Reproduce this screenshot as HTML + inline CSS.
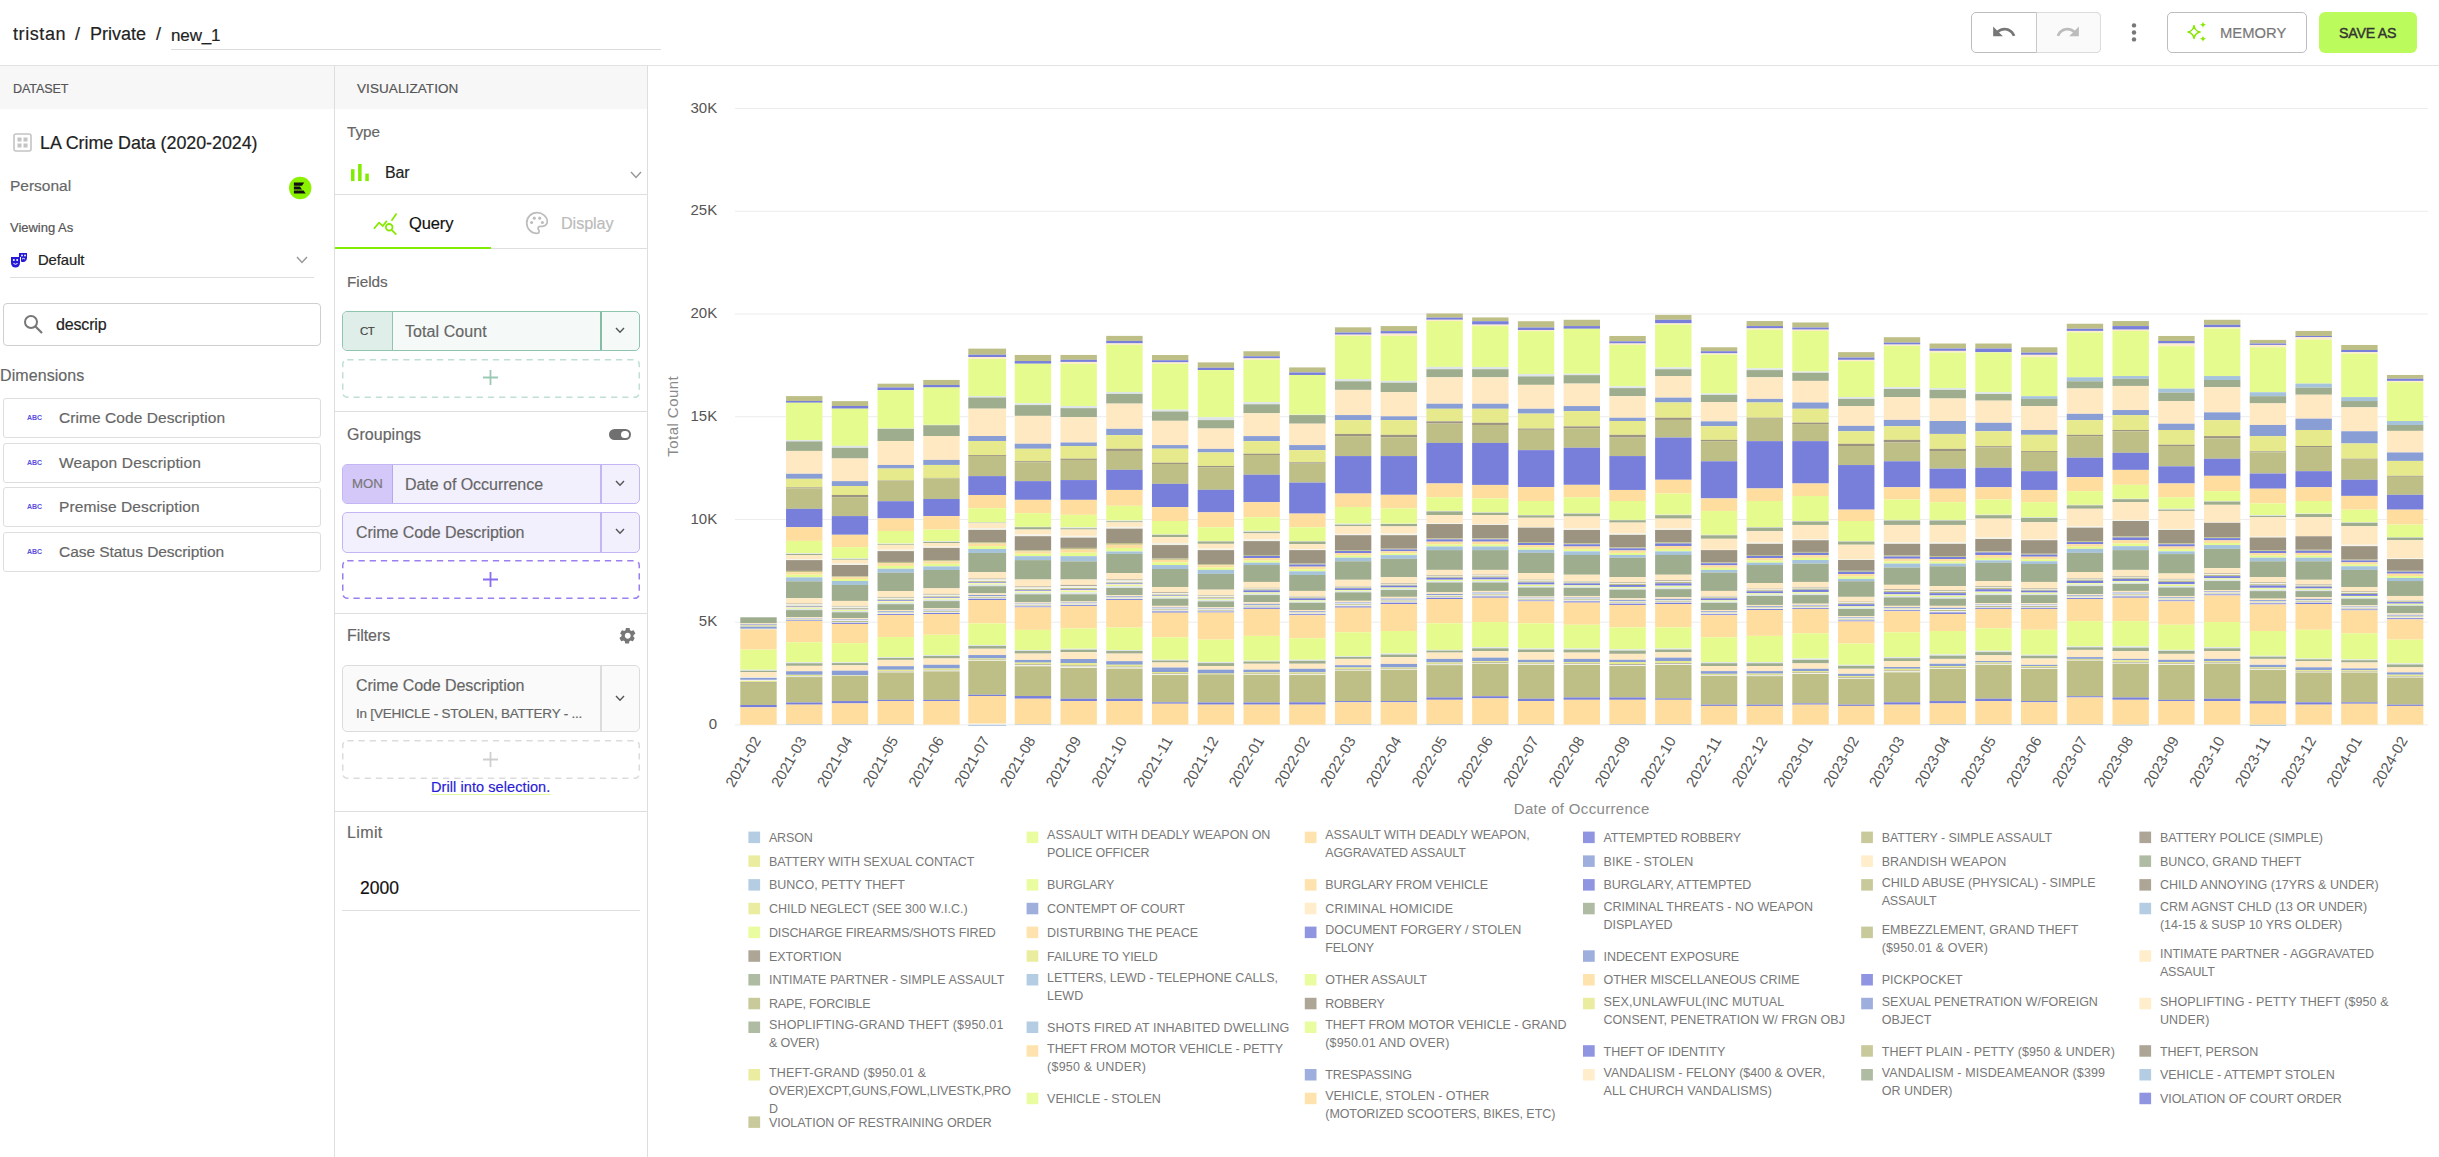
<!DOCTYPE html>
<html lang="en">
<head>
<meta charset="utf-8">
<title>new_1</title>
<style>
*{box-sizing:border-box}
html,body{margin:0;padding:0}
body{width:2439px;height:1157px;position:relative;overflow:hidden;background:#fff;font-family:"Liberation Sans",sans-serif;color:#222}
.abs{position:absolute}
.t{position:absolute;white-space:nowrap;line-height:1;margin:0;-webkit-text-stroke:0.18px currentColor}
.hl{position:absolute;height:1px;background:#dedede}
.vl{position:absolute;width:1px;background:#dedede}
.hdr{position:absolute;top:66px;height:43px;background:#f7f7f8}
.dim{position:absolute;left:3px;width:318px;height:40px;border:1px solid #dedede;border-radius:3px;background:#fff}
.abc{position:absolute;left:23px;top:14px;font-size:7px;font-weight:bold;color:#5a4fe0;letter-spacing:-0.1px;line-height:10px}
.pill{position:absolute;left:342px;width:298px;border-radius:5px;overflow:hidden}
.dash{position:absolute;left:342px;width:298px;height:38px;border-radius:5px}
.plus{position:absolute;left:483px;width:15px;height:15px}
.btn{position:absolute;top:12px;height:41px;border-radius:5px}
svg{position:absolute;overflow:visible}
#chart text{font-family:"Liberation Sans",sans-serif}
#chart rect{width:36.4px}
.lb{fill:#a6c3dc}.yg{fill:#e6fb8d}.or{fill:#ffdd9f}.bl{fill:#787fdb}.ol{fill:#bdbf87}
.br{fill:#9c9380}.kh{fill:#e6e98c}.pe{fill:#8a9ed6}.cr{fill:#ffe9c2}.sg{fill:#9fad8f}
.wh{fill:#fff}.lt{fill:#f1f2e6}.lo{fill:#ffeccb}.lbg{fill:#dde5e8}
#legend rect{width:11.7px;height:11.5px}
#legend text{font-size:12.5px;fill:#787878}
</style>
</head>
<body>
<!-- ===== top bar ===== -->
<div class="t" id="bc1" style="left:13px;top:25.0px;font-size:18px;color:#222;letter-spacing:0.58px">tristan</div>
<div class="t" id="bc2" style="left:75px;top:25.0px;font-size:18px;color:#222">/</div>
<div class="t" id="bc3" style="left:90px;top:25.0px;font-size:18px;color:#222;letter-spacing:-0.01px">Private</div>
<div class="t" id="bc4" style="left:156px;top:25.0px;font-size:18px;color:#222">/</div>
<div class="t" id="bc5" style="left:171px;top:27.2px;font-size:17px;color:#222;letter-spacing:-0.13px">new_1</div>
<div class="hl" style="left:171px;top:49px;width:490px;background:#dcdcdc"></div>
<div class="hl" style="left:0;top:65px;width:2439px;background:#e2e2e2"></div>

<div class="btn" style="left:1971px;width:130px;border:1px solid #bdbdbd;background:#fff"></div>
<div class="btn" style="left:2036px;width:65px;border:1px solid #dcdcdc;border-left:1px solid #c8c8c8;background:#fafafa;border-radius:0 5px 5px 0"></div>
<svg style="left:1991px;top:19px" width="26" height="26" viewBox="0 0 24 24"><path fill="#777" d="M12.5 8c-2.65 0-5.05.99-6.9 2.6L2 7v9h9l-3.62-3.62c1.39-1.16 3.16-1.88 5.12-1.88 3.54 0 6.55 2.31 7.6 5.5l2.37-.78C21.08 11.03 17.15 8 12.5 8z"/></svg>
<svg style="left:2055px;top:19px" width="26" height="26" viewBox="0 0 24 24"><path fill="#bcbcbc" d="M18.4 10.6C16.55 8.99 14.15 8 11.5 8c-4.65 0-8.58 3.03-9.96 7.22L3.9 16c1.05-3.19 4.05-5.5 7.6-5.5 1.95 0 3.73.72 5.12 1.88L13 16h9V7l-3.6 3.6z"/></svg>
<svg style="left:2122px;top:20px" width="24" height="26" viewBox="0 0 24 26"><circle cx="12" cy="5.4" r="2.2" fill="#777"/><circle cx="12" cy="12.5" r="2.2" fill="#777"/><circle cx="12" cy="19.4" r="2.2" fill="#777"/></svg>
<div class="btn" style="left:2167px;width:140px;border:1px solid #bdbdbd;background:#fff"></div>
<svg style="left:2185px;top:21px" width="24" height="22" viewBox="0 0 24 22"><g fill="none" stroke="#86e800" stroke-width="1.5" stroke-linejoin="round"><path d="M9 4.5c.6 4 2.2 5.7 6 6.5-3.8.8-5.400 2.500-6 6.500-.6-4-2.200-5.700-6-6.500 3.800-.8 5.400-2.500 6-6.500z"/></g><g fill="#86e800"><path d="M18 .5c.3 2 1.100 2.800 3 3.200-1.900.4-2.700 1.200-3 3.200-.3-2-1.100-2.800-3-3.200 1.900-.4 2.700-1.200 3-3.200z"/><path d="M18 14.500c.3 2 1.100 2.800 3 3.200-1.900.4-2.700 1.200-3 3.200-.3-2-1.100-2.800-3-3.200 1.900-.4 2.700-1.200 3-3.200z"/></g></svg>
<div class="t" id="mem" style="left:2220px;top:25.5px;font-size:14.8px;color:#777;letter-spacing:-0.01px">MEMORY</div>
<div class="btn" style="left:2319px;width:98px;background:#bbfb5c;border-radius:6px"></div>
<div class="t" id="save" style="left:2339px;top:26.0px;font-size:14.2px;color:#333;-webkit-text-stroke:0.4px #333;letter-spacing:-0.23px">SAVE AS</div>

<!-- ===== left panel ===== -->
<div class="hdr" style="left:0;width:334px"></div>
<div class="hdr" style="left:335px;width:312px"></div>
<div class="vl" style="left:334px;top:66px;height:1091px"></div>
<div class="vl" style="left:647px;top:66px;height:1091px"></div>
<div class="t" id="ds" style="left:13px;top:82.6px;font-size:12.6px;color:#555;letter-spacing:-0.14px">DATASET</div>
<div class="t" id="vz" style="left:357px;top:81.9px;font-size:13.5px;color:#555;letter-spacing:0.09px">VISUALIZATION</div>

<svg style="left:13px;top:133px" width="19" height="19" viewBox="0 0 19 19"><rect x="1" y="1" width="17" height="17" rx="2" fill="none" stroke="#c4c4c4" stroke-width="1.6"/><rect x="4.500" y="4.500" width="4" height="4" fill="#c4c4c4"/><rect x="10.500" y="4.500" width="4" height="4" fill="#c4c4c4"/><rect x="4.500" y="10.500" width="4" height="4" fill="#c4c4c4"/><rect x="10.500" y="10.500" width="4" height="4" fill="#c4c4c4"/></svg>
<div class="t" id="la" style="left:40px;top:134.8px;font-size:17.9px;color:#222;letter-spacing:-0.05px">LA Crime Data (2020-2024)</div>
<div class="t" id="pers" style="left:10px;top:177.8px;font-size:15.5px;color:#666">Personal</div>
<svg style="left:288px;top:176px" width="24" height="24" viewBox="0 0 24 24"><circle cx="12.2" cy="12" r="11.2" fill="#8af200"/><path d="M5.900 6.500H16.200L14 9.700H5.900zM5.900 10.500H12L14 13.600H5.900zM5.900 14.400H15.600L17.700 17.600H5.900z" fill="#111"/></svg>
<div class="t" id="va" style="left:10px;top:220.9px;font-size:13px;color:#555;letter-spacing:-0.02px">Viewing As</div>
<svg style="left:10px;top:252px" width="18" height="16" viewBox="0 0 18 16"><path d="M1 5h9v6a4.500 4.500 0 0 1-9 0z" fill="#2419d6"/><path d="M9 1h8v5a4 4 0 0 1-6 3.500v-4.500h-2z" fill="#2419d6"/><circle cx="3.800" cy="8" r="1" fill="#fff"/><circle cx="7.200" cy="8" r="1" fill="#fff"/><path d="M3.500 11.500q2 1.500 4 0" stroke="#fff" stroke-width="1" fill="none"/><circle cx="12" cy="3.500" r=".9" fill="#fff"/><circle cx="15" cy="3.500" r=".9" fill="#fff"/><path d="M12 7q1.500-1.200 3 0" stroke="#fff" stroke-width=".9" fill="none"/></svg>
<div class="t" id="def" style="left:38px;top:253.0px;font-size:14.8px;color:#222;letter-spacing:-0.07px">Default</div>
<svg style="left:296px;top:256px" width="12" height="8" viewBox="0 0 12 8"><path d="M1 1l5 5.500 5-5.500" fill="none" stroke="#999" stroke-width="1.500"/></svg>
<div class="hl" style="left:10px;top:277px;width:304px"></div>

<div class="abs" style="left:3px;top:303px;width:318px;height:43px;border:1px solid #cfcfcf;border-radius:4px"></div>
<svg style="left:23px;top:314px" width="21" height="21" viewBox="0 0 21 21"><circle cx="8" cy="8" r="6" fill="none" stroke="#777" stroke-width="2"/><path d="M12.500 12.500l6.500 6.500" stroke="#777" stroke-width="2.200"/></svg>
<div class="t" id="srch" style="left:56px;top:316.5px;font-size:16px;color:#222;letter-spacing:-0.16px">descrip</div>
<div class="t" id="dims" style="left:0;top:367.9px;font-size:16px;color:#666;letter-spacing:0.08px">Dimensions</div>

<div class="dim" style="top:398px"><span class="abc">ABC</span></div>
<div class="dim" style="top:443px"><span class="abc">ABC</span></div>
<div class="dim" style="top:487px"><span class="abc">ABC</span></div>
<div class="dim" style="top:532px"><span class="abc">ABC</span></div>
<div class="t" id="d1" style="left:59px;top:410.3px;font-size:15.5px;color:#666;letter-spacing:0.07px">Crime Code Description</div>
<div class="t" id="d2" style="left:59px;top:455.2px;font-size:15.5px;color:#666;letter-spacing:0.15px">Weapon Description</div>
<div class="t" id="d3" style="left:59px;top:499.3px;font-size:15.5px;color:#666;letter-spacing:0.11px">Premise Description</div>
<div class="t" id="d4" style="left:59px;top:544.2px;font-size:15.5px;color:#666;letter-spacing:-0.05px">Case Status Description</div>

<!-- ===== middle panel ===== -->
<div class="t" id="type" style="left:347px;top:124.2px;font-size:15.3px;color:#666;letter-spacing:-0.06px">Type</div>
<svg style="left:351.2px;top:164px" width="19" height="18" viewBox="0 0 19 18"><rect x="0" y="5.200" width="3.500" height="11.900" fill="#80ec00"/><rect x="7.100" y="0" width="3.500" height="17.100" fill="#80ec00"/><rect x="14.300" y="9.600" width="3.500" height="7.500" fill="#80ec00"/></svg>
<div class="t" id="bar" style="left:385px;top:165.0px;font-size:16px;color:#222;letter-spacing:-0.10px">Bar</div>
<svg style="left:630px;top:171px" width="12" height="8" viewBox="0 0 12 8"><path d="M1 1l5 5.500 5-5.500" fill="none" stroke="#999" stroke-width="1.500"/></svg>
<div class="hl" style="left:335px;top:194px;width:312px"></div>

<svg style="left:373px;top:213px" width="25" height="22.200" viewBox="0 0 27 24"><g fill="none" stroke="#86e800" stroke-width="1.900"><path d="M1 17l5.500-6.500 4 3.500 4.500-5.500"/><path d="M20 8.500l5.500-8"/><circle cx="17.500" cy="15.500" r="3.600"/><path d="M20.200 18.300l5 5"/></g></svg>
<div class="t" id="qry" style="left:409px;top:215.0px;font-size:16.5px;color:#111;letter-spacing:-0.11px">Query</div>
<svg style="left:524px;top:210px" width="26" height="26" viewBox="0 0 24 24"><path fill="none" stroke="#bdbdbd" stroke-width="1.6" d="M12 2.500a9.500 9.500 0 1 0 0 19c1.300 0 2-.9 2-1.900 0-.5-.2-1-.5-1.300-.3-.4-.5-.8-.5-1.300 0-1 .8-1.900 1.900-1.900h2.200c2.400 0 4.400-2 4.400-4.400 0-4.500-4.300-8.200-9.500-8.200z"/><circle cx="7" cy="11.500" r="1.400" fill="#bdbdbd"/><circle cx="9.500" cy="7.500" r="1.400" fill="#bdbdbd"/><circle cx="14.500" cy="7.500" r="1.400" fill="#bdbdbd"/><circle cx="17" cy="11.500" r="1.400" fill="#bdbdbd"/></svg>
<div class="t" id="dsp" style="left:561px;top:215.3px;font-size:16.2px;color:#bbb;letter-spacing:-0.08px">Display</div>
<div class="hl" style="left:491px;top:248px;width:156px"></div>
<div class="abs" style="left:335px;top:247px;width:156px;height:2px;background:#80ec00"></div>

<div class="t" id="flds" style="left:347px;top:273.5px;font-size:15.3px;color:#666;letter-spacing:-0.02px">Fields</div>
<div class="pill" style="top:311px;height:40px;border:1px solid #8fc4ae;background:#f5faf8">
  <div class="abs" style="left:0;top:0;width:50px;height:38px;background:#dfeee8;border-right:1px solid #8fc4ae"></div>
  <div class="abs" style="left:257px;top:0;width:2px;height:38px;background:#84bca5"></div>
</div>
<div class="t" id="ct" style="left:360px;top:326.1px;font-size:11.5px;color:#444;letter-spacing:-0.64px">CT</div>
<div class="t" id="tc" style="left:405px;top:323.8px;font-size:16px;color:#666;letter-spacing:0.08px">Total Count</div>
<svg style="left:615px;top:327px" width="10" height="7" viewBox="0 0 10 7"><path d="M1 1l4 4.300 4-4.300" fill="none" stroke="#555" stroke-width="1.400"/></svg>
<svg style="left:342px;top:359px" width="298" height="39" viewBox="0 0 298 39"><rect x=".75" y=".75" width="296.5" height="37.5" rx="4.5" fill="none" stroke="#bfe0d3" stroke-width="1.5" stroke-dasharray="6.3 4.9"/></svg>
<svg class="plus" style="top:370px" viewBox="0 0 15 15"><path d="M7.500 0v15M0 7.500h15" stroke="#9cc9b6" stroke-width="1.8"/></svg>
<div class="hl" style="left:335px;top:411px;width:312px"></div>

<div class="t" id="grp" style="left:347px;top:426.7px;font-size:16px;color:#666;letter-spacing:0.03px">Groupings</div>
<div class="abs" style="left:609px;top:428.5px;width:22px;height:11px;border-radius:6px;background:#707070"></div>
<div class="abs" style="left:621px;top:430.5px;width:8px;height:7px;border-radius:4px;background:#fff"></div>
<div class="pill" style="top:464px;height:40px;border:1px solid #c4b5f5;background:#f3f0fe">
  <div class="abs" style="left:0;top:0;width:50px;height:38px;background:#d4c8f9;border-right:1px solid #b9a7f3"></div>
  <div class="abs" style="left:257px;top:0;width:2px;height:38px;background:#c4b5f5"></div>
</div>
<div class="t" id="mon" style="left:352px;top:476.8px;font-size:13.2px;color:#777;letter-spacing:0.06px">MON</div>
<div class="t" id="doo" style="left:405px;top:476.6px;font-size:16px;color:#666;letter-spacing:-0.04px">Date of Occurrence</div>
<svg style="left:615px;top:480px" width="10" height="7" viewBox="0 0 10 7"><path d="M1 1l4 4.300 4-4.300" fill="none" stroke="#555" stroke-width="1.400"/></svg>
<div class="pill" style="top:512px;height:41px;border:1px solid #c4b5f5;background:#f3f0fe">
  <div class="abs" style="left:257px;top:0;width:2px;height:39px;background:#c4b5f5"></div>
</div>
<div class="t" id="ccd" style="left:356px;top:524.5px;font-size:16px;color:#666;letter-spacing:-0.07px">Crime Code Description</div>
<svg style="left:615px;top:528px" width="10" height="7" viewBox="0 0 10 7"><path d="M1 1l4 4.300 4-4.300" fill="none" stroke="#555" stroke-width="1.400"/></svg>
<svg style="left:342px;top:560px" width="298" height="39" viewBox="0 0 298 39"><rect x=".75" y=".75" width="296.5" height="37.5" rx="4.5" fill="none" stroke="#9b7ff0" stroke-width="1.5" stroke-dasharray="6.3 4.9"/></svg>
<svg class="plus" style="top:572px" viewBox="0 0 15 15"><path d="M7.500 0v15M0 7.500h15" stroke="#8a6cf0" stroke-width="1.8"/></svg>
<div class="hl" style="left:335px;top:613px;width:312px"></div>

<div class="t" id="flt" style="left:347px;top:627.6px;font-size:16px;color:#666;letter-spacing:-0.06px">Filters</div>
<svg style="left:617.5px;top:625.5px" width="19.500" height="19.500" viewBox="0 0 24 24"><path fill="#777" d="M19.140 12.940c.04-.3.060-.610.060-.940 0-.320-.020-.640-.070-.940l2.030-1.580a.490.490 0 0 0 .120-.610l-1.920-3.320a.488.488 0 0 0-.590-.220l-2.390.960c-.5-.380-1.030-.7-1.620-.940l-.36-2.540a.484.484 0 0 0-.480-.410h-3.840c-.24 0-.43.170-.47.410l-.36 2.540c-.59.240-1.130.570-1.620.940l-2.390-.960c-.22-.080-.47 0-.59.220L2.740 8.870c-.12.210-.08.470.12.610l2.030 1.580c-.05.3-.9.630-.9.940s.2.640.07.940l-2.030 1.580a.49.490 0 0 0-.12.610l1.920 3.320c.12.220.37.290.59.220l2.390-.96c.5.380 1.030.7 1.620.94l.36 2.540c.5.240.24.410.48.410h3.840c.24 0 .44-.17.470-.41l.36-2.540c.59-.24 1.130-.56 1.620-.94l2.390.96c.22.080.47 0 .59-.22l1.920-3.320c.12-.22.070-.47-.12-.61l-2.010-1.580zM12 15.600c-1.980 0-3.600-1.620-3.600-3.600s1.620-3.600 3.600-3.600 3.600 1.620 3.600 3.600-1.620 3.600-3.600 3.600z"/></svg>
<div class="pill" style="top:665px;height:67px;border:1px solid #dcdcdc;background:#fafafa">
  <div class="abs" style="left:257px;top:0;width:2px;height:65px;background:#dcdcdc"></div>
</div>
<div class="t" id="ccd2" style="left:356px;top:677.6px;font-size:16px;color:#666;letter-spacing:-0.07px">Crime Code Description</div>
<div class="t" id="inv" style="left:356px;top:706.7px;font-size:13.5px;color:#666;letter-spacing:-0.22px">In [VEHICLE - STOLEN, BATTERY - ...</div>
<svg style="left:615px;top:695px" width="10" height="7" viewBox="0 0 10 7"><path d="M1 1l4 4.300 4-4.300" fill="none" stroke="#555" stroke-width="1.400"/></svg>
<svg style="left:342px;top:740px" width="298" height="39" viewBox="0 0 298 39"><rect x=".75" y=".75" width="296.5" height="37.5" rx="4.5" fill="none" stroke="#dcdcdc" stroke-width="1.5" stroke-dasharray="6.3 4.9"/></svg>
<svg class="plus" style="top:752px" viewBox="0 0 15 15"><path d="M7.500 0v15M0 7.500h15" stroke="#cfcfcf" stroke-width="1.8"/></svg>
<div class="t" id="drill" style="left:431px;top:780.2px;font-size:14.5px;color:#2a1bd8;letter-spacing:0.08px">Drill into selection.</div>
<div class="hl" style="left:431px;top:794px;width:120px;background:#e2faa0"></div>
<div class="hl" style="left:335px;top:811px;width:312px"></div>
<div class="t" id="lim" style="left:347px;top:825.1px;font-size:16px;color:#666;letter-spacing:0.38px">Limit</div>
<div class="t" id="n2k" style="left:360px;top:879.6px;font-size:17.5px;color:#111;letter-spacing:0.05px">2000</div>
<div class="hl" style="left:342px;top:910px;width:298px"></div>

<!-- ===== chart ===== -->
<svg id="chart" style="left:0;top:0" width="2439" height="1157" viewBox="0 0 2439 1157">
<g id="grid" stroke="#ececec" stroke-width="1">
<path d="M735.0 724.90H2428.0"/>
<path d="M735.0 622.17H2428.0"/>
<path d="M735.0 519.44H2428.0"/>
<path d="M735.0 416.71H2428.0"/>
<path d="M735.0 313.98H2428.0"/>
<path d="M735.0 211.25H2428.0"/>
<path d="M735.0 108.52H2428.0"/>
</g>
<g id="yl" font-size="15" fill="#555" text-anchor="end">
<text x="717.2" y="729.0">0</text>
<text x="717.2" y="626.3">5K</text>
<text x="717.2" y="523.5">10K</text>
<text x="717.2" y="420.8">15K</text>
<text x="717.2" y="318.1">20K</text>
<text x="717.2" y="215.3">25K</text>
<text x="717.2" y="112.6">30K</text>
</g>
<text id="ytitle" transform="translate(678.2,416.5) rotate(-90)" text-anchor="middle" font-size="15" fill="#8a8a8a" textLength="80.5">Total Count</text>
<g id="bars">
<g transform="translate(740.30,0)">
<rect class="sg" y="617.29" height="6.11"/>
<rect class="cr" y="623.41" height="1.08"/>
<rect class="bl" y="624.48" height="0.90"/>
<rect class="kh" y="625.38" height="1.26"/>
<rect class="pe" y="626.64" height="2.16"/>
<rect class="lt" y="628.80" height="0.54"/>
<rect class="or" y="629.34" height="20.32"/>
<rect class="yg" y="649.65" height="20.14"/>
<rect class="lbg" y="669.79" height="1.08"/>
<rect class="sg" y="670.87" height="1.26"/>
<rect class="cr" y="672.13" height="4.85"/>
<rect class="lt" y="676.98" height="0.90"/>
<rect class="pe" y="677.88" height="1.98"/>
<rect class="lt" y="679.86" height="1.08"/>
<rect class="kh" y="680.94" height="1.08"/>
<rect class="br" y="682.02" height="0.72"/>
<rect class="ol" y="682.74" height="22.27"/>
<rect class="bl" y="705.01" height="2.33"/>
<rect class="or" y="707.35" height="17.45"/>
</g>
<g transform="translate(786.04,0)">
<rect class="ol" y="396.10" height="4.85"/>
<rect class="bl" y="400.95" height="1.80"/>
<rect class="yg" y="402.75" height="37.40"/>
<rect class="lbg" y="440.15" height="1.26"/>
<rect class="sg" y="441.41" height="9.53"/>
<rect class="cr" y="450.93" height="22.83"/>
<rect class="pe" y="473.77" height="5.03"/>
<rect class="kh" y="478.80" height="8.63"/>
<rect class="br" y="487.43" height="0.90"/>
<rect class="ol" y="488.33" height="20.52"/>
<rect class="bl" y="508.85" height="18.36"/>
<rect class="or" y="527.22" height="13.66"/>
<rect class="yg" y="540.88" height="12.41"/>
<rect class="lbg" y="553.29" height="0.72"/>
<rect class="sg" y="554.01" height="1.08"/>
<rect class="cr" y="555.08" height="4.14"/>
<rect class="lt" y="559.22" height="0.45"/>
<rect class="lt" y="559.67" height="0.45"/>
<rect class="br" y="560.12" height="10.79"/>
<rect class="ol" y="570.91" height="1.29"/>
<rect class="or" y="572.20" height="2.46"/>
<rect class="yg" y="574.66" height="2.72"/>
<rect class="lb" y="577.38" height="3.96"/>
<rect class="sg" y="581.33" height="16.90"/>
<rect class="cr" y="598.23" height="5.39"/>
<rect class="br" y="603.63" height="0.65"/>
<rect class="lt" y="604.28" height="1.49"/>
<rect class="ol" y="605.76" height="0.84"/>
<rect class="bl" y="606.61" height="0.65"/>
<rect class="lo" y="607.25" height="0.65"/>
<rect class="yg" y="607.90" height="0.91"/>
<rect class="lbg" y="608.81" height="1.29"/>
<rect class="sg" y="610.10" height="7.19"/>
<rect class="cr" y="617.29" height="0.86"/>
<rect class="pe" y="618.16" height="0.58"/>
<rect class="wh" y="618.73" height="0.36"/>
<rect class="ol" y="619.09" height="0.61"/>
<rect class="lt" y="619.70" height="0.50"/>
<rect class="bl" y="620.20" height="0.68"/>
<rect class="or" y="620.89" height="21.40"/>
<rect class="yg" y="642.28" height="19.96"/>
<rect class="lbg" y="662.24" height="1.01"/>
<rect class="sg" y="663.25" height="2.59"/>
<rect class="cr" y="665.84" height="5.39"/>
<rect class="pe" y="671.23" height="3.60"/>
<rect class="kh" y="674.83" height="1.13"/>
<rect class="br" y="675.95" height="0.45"/>
<rect class="lt" y="676.40" height="0.68"/>
<rect class="ol" y="677.08" height="25.42"/>
<rect class="bl" y="702.50" height="2.16"/>
<rect class="or" y="704.66" height="19.64"/>
<rect class="lb" y="724.30" height="0.50"/>
</g>
<g transform="translate(831.78,0)">
<rect class="ol" y="401.13" height="4.85"/>
<rect class="bl" y="405.99" height="2.70"/>
<rect class="yg" y="408.68" height="37.22"/>
<rect class="lbg" y="445.90" height="1.98"/>
<rect class="sg" y="447.88" height="10.61"/>
<rect class="cr" y="458.49" height="22.65"/>
<rect class="pe" y="481.14" height="4.85"/>
<rect class="kh" y="485.99" height="8.99"/>
<rect class="br" y="494.98" height="2.16"/>
<rect class="ol" y="497.14" height="18.93"/>
<rect class="bl" y="516.07" height="18.70"/>
<rect class="or" y="534.77" height="12.41"/>
<rect class="yg" y="547.17" height="11.15"/>
<rect class="lbg" y="558.32" height="0.58"/>
<rect class="sg" y="558.90" height="0.86"/>
<rect class="cr" y="559.76" height="3.96"/>
<rect class="lt" y="563.71" height="0.63"/>
<rect class="lt" y="564.34" height="0.63"/>
<rect class="br" y="564.97" height="11.33"/>
<rect class="ol" y="576.30" height="0.93"/>
<rect class="or" y="577.23" height="1.78"/>
<rect class="yg" y="579.01" height="1.96"/>
<rect class="lb" y="580.97" height="3.96"/>
<rect class="sg" y="584.93" height="16.00"/>
<rect class="cr" y="600.93" height="5.03"/>
<rect class="br" y="605.97" height="0.63"/>
<rect class="lt" y="606.59" height="1.45"/>
<rect class="ol" y="608.04" height="0.82"/>
<rect class="bl" y="608.86" height="0.63"/>
<rect class="lo" y="609.49" height="0.63"/>
<rect class="yg" y="610.12" height="0.88"/>
<rect class="lbg" y="611.00" height="1.26"/>
<rect class="sg" y="612.26" height="5.75"/>
<rect class="cr" y="618.01" height="1.42"/>
<rect class="pe" y="619.44" height="0.95"/>
<rect class="wh" y="620.38" height="0.59"/>
<rect class="ol" y="620.98" height="1.01"/>
<rect class="lt" y="621.99" height="0.83"/>
<rect class="bl" y="622.82" height="1.13"/>
<rect class="or" y="623.94" height="19.24"/>
<rect class="yg" y="643.18" height="19.06"/>
<rect class="lbg" y="662.24" height="0.86"/>
<rect class="sg" y="663.10" height="2.20"/>
<rect class="cr" y="665.30" height="5.39"/>
<rect class="pe" y="670.69" height="4.49"/>
<rect class="kh" y="675.19" height="0.41"/>
<rect class="br" y="675.59" height="0.16"/>
<rect class="lt" y="675.76" height="0.24"/>
<rect class="ol" y="676.00" height="25.06"/>
<rect class="bl" y="701.06" height="2.33"/>
<rect class="or" y="703.40" height="20.90"/>
<rect class="lb" y="724.30" height="0.50"/>
</g>
<g transform="translate(877.52,0)">
<rect class="ol" y="383.69" height="3.78"/>
<rect class="bl" y="387.47" height="2.70"/>
<rect class="yg" y="390.16" height="38.30"/>
<rect class="lbg" y="428.46" height="0.36"/>
<rect class="sg" y="428.82" height="12.23"/>
<rect class="cr" y="441.05" height="23.91"/>
<rect class="pe" y="464.96" height="3.60"/>
<rect class="kh" y="468.55" height="11.69"/>
<rect class="br" y="480.24" height="0.36"/>
<rect class="ol" y="480.60" height="20.61"/>
<rect class="bl" y="501.21" height="17.20"/>
<rect class="or" y="518.41" height="12.59"/>
<rect class="yg" y="530.99" height="12.59"/>
<rect class="lbg" y="543.58" height="0.50"/>
<rect class="sg" y="544.08" height="0.76"/>
<rect class="cr" y="544.84" height="4.85"/>
<rect class="lt" y="549.69" height="0.72"/>
<rect class="lt" y="550.41" height="0.72"/>
<rect class="br" y="551.13" height="10.79"/>
<rect class="ol" y="561.92" height="1.37"/>
<rect class="or" y="563.28" height="2.60"/>
<rect class="yg" y="565.88" height="2.87"/>
<rect class="lb" y="568.75" height="3.96"/>
<rect class="sg" y="572.70" height="18.34"/>
<rect class="cr" y="591.04" height="5.93"/>
<rect class="br" y="596.98" height="0.72"/>
<rect class="lt" y="597.70" height="1.65"/>
<rect class="ol" y="599.35" height="0.93"/>
<rect class="bl" y="600.28" height="0.72"/>
<rect class="lo" y="601.00" height="0.72"/>
<rect class="yg" y="601.72" height="1.01"/>
<rect class="lbg" y="602.73" height="1.44"/>
<rect class="sg" y="604.17" height="5.93"/>
<rect class="cr" y="610.10" height="1.17"/>
<rect class="pe" y="611.27" height="0.78"/>
<rect class="wh" y="612.04" height="0.49"/>
<rect class="ol" y="612.53" height="0.83"/>
<rect class="lt" y="613.35" height="0.68"/>
<rect class="bl" y="614.03" height="0.92"/>
<rect class="or" y="614.96" height="22.11"/>
<rect class="yg" y="637.07" height="20.14"/>
<rect class="lbg" y="657.21" height="0.76"/>
<rect class="sg" y="657.96" height="1.94"/>
<rect class="cr" y="659.90" height="6.29"/>
<rect class="pe" y="666.20" height="3.60"/>
<rect class="kh" y="669.79" height="1.31"/>
<rect class="br" y="671.10" height="0.52"/>
<rect class="lt" y="671.62" height="0.78"/>
<rect class="ol" y="672.41" height="27.40"/>
<rect class="bl" y="699.81" height="1.26"/>
<rect class="or" y="701.06" height="23.24"/>
<rect class="lb" y="724.30" height="0.50"/>
</g>
<g transform="translate(923.26,0)">
<rect class="ol" y="379.92" height="5.03"/>
<rect class="bl" y="384.95" height="2.52"/>
<rect class="yg" y="387.47" height="37.40"/>
<rect class="lbg" y="424.86" height="0.36"/>
<rect class="sg" y="425.22" height="10.79"/>
<rect class="cr" y="436.01" height="23.91"/>
<rect class="pe" y="459.92" height="5.03"/>
<rect class="kh" y="464.96" height="12.94"/>
<rect class="br" y="477.90" height="0.36"/>
<rect class="ol" y="478.26" height="20.70"/>
<rect class="bl" y="498.96" height="17.11"/>
<rect class="or" y="516.07" height="13.48"/>
<rect class="yg" y="529.55" height="11.69"/>
<rect class="lbg" y="541.24" height="0.72"/>
<rect class="sg" y="541.96" height="1.08"/>
<rect class="cr" y="543.04" height="3.60"/>
<rect class="lt" y="546.63" height="0.63"/>
<rect class="lt" y="547.26" height="0.63"/>
<rect class="br" y="547.89" height="12.23"/>
<rect class="ol" y="560.12" height="1.26"/>
<rect class="or" y="561.38" height="2.39"/>
<rect class="yg" y="563.77" height="2.64"/>
<rect class="lb" y="566.41" height="3.60"/>
<rect class="sg" y="570.01" height="18.34"/>
<rect class="cr" y="588.35" height="5.57"/>
<rect class="br" y="593.92" height="0.72"/>
<rect class="lt" y="594.64" height="1.65"/>
<rect class="ol" y="596.29" height="0.93"/>
<rect class="bl" y="597.23" height="0.72"/>
<rect class="lo" y="597.95" height="0.72"/>
<rect class="yg" y="598.67" height="1.01"/>
<rect class="lbg" y="599.67" height="1.44"/>
<rect class="sg" y="601.11" height="7.19"/>
<rect class="cr" y="608.30" height="1.38"/>
<rect class="pe" y="609.68" height="0.92"/>
<rect class="wh" y="610.60" height="0.58"/>
<rect class="ol" y="611.18" height="0.98"/>
<rect class="lt" y="612.16" height="0.81"/>
<rect class="bl" y="612.96" height="1.09"/>
<rect class="or" y="614.06" height="20.68"/>
<rect class="yg" y="634.73" height="20.32"/>
<rect class="lbg" y="655.05" height="0.96"/>
<rect class="sg" y="656.01" height="2.46"/>
<rect class="cr" y="658.46" height="6.29"/>
<rect class="pe" y="664.76" height="3.78"/>
<rect class="kh" y="668.53" height="1.40"/>
<rect class="br" y="669.93" height="0.56"/>
<rect class="lt" y="670.49" height="0.84"/>
<rect class="ol" y="671.33" height="28.48"/>
<rect class="bl" y="699.81" height="1.26"/>
<rect class="or" y="701.06" height="23.24"/>
<rect class="or" y="724.30" height="0.50"/>
</g>
<g transform="translate(968.30,0) scale(1.0385,1)">
<rect class="ol" y="348.63" height="6.11"/>
<rect class="bl" y="354.75" height="2.34"/>
<rect class="lo" y="357.08" height="1.80"/>
<rect class="yg" y="358.88" height="37.22"/>
<rect class="lbg" y="396.10" height="1.44"/>
<rect class="sg" y="397.54" height="11.15"/>
<rect class="cr" y="408.68" height="27.33"/>
<rect class="pe" y="436.01" height="5.03"/>
<rect class="kh" y="441.05" height="14.02"/>
<rect class="br" y="455.07" height="0.90"/>
<rect class="ol" y="455.97" height="20.14"/>
<rect class="bl" y="476.10" height="18.90"/>
<rect class="or" y="495.01" height="13.21"/>
<rect class="yg" y="508.22" height="14.14"/>
<rect class="lbg" y="522.36" height="0.36"/>
<rect class="sg" y="522.72" height="0.54"/>
<rect class="cr" y="523.26" height="5.03"/>
<rect class="lt" y="528.30" height="0.81"/>
<rect class="lt" y="529.10" height="0.81"/>
<rect class="br" y="529.91" height="12.23"/>
<rect class="ol" y="542.14" height="1.37"/>
<rect class="or" y="543.51" height="2.60"/>
<rect class="yg" y="546.10" height="2.87"/>
<rect class="lb" y="548.97" height="3.96"/>
<rect class="sg" y="552.93" height="19.24"/>
<rect class="cr" y="572.16" height="6.47"/>
<rect class="br" y="578.64" height="0.76"/>
<rect class="lt" y="579.39" height="1.74"/>
<rect class="ol" y="581.13" height="0.98"/>
<rect class="bl" y="582.11" height="0.76"/>
<rect class="lo" y="582.87" height="0.76"/>
<rect class="yg" y="583.62" height="1.06"/>
<rect class="lbg" y="584.68" height="1.51"/>
<rect class="sg" y="586.19" height="7.19"/>
<rect class="cr" y="593.38" height="1.60"/>
<rect class="pe" y="594.98" height="1.06"/>
<rect class="wh" y="596.04" height="0.67"/>
<rect class="ol" y="596.71" height="1.13"/>
<rect class="lt" y="597.84" height="0.93"/>
<rect class="bl" y="598.77" height="1.26"/>
<rect class="or" y="600.03" height="23.37"/>
<rect class="yg" y="623.41" height="21.57"/>
<rect class="lbg" y="644.98" height="1.06"/>
<rect class="sg" y="646.04" height="2.72"/>
<rect class="cr" y="648.76" height="6.29"/>
<rect class="pe" y="655.05" height="3.42"/>
<rect class="kh" y="658.46" height="1.22"/>
<rect class="br" y="659.69" height="0.49"/>
<rect class="lt" y="660.17" height="0.73"/>
<rect class="ol" y="660.91" height="33.87"/>
<rect class="bl" y="694.78" height="1.26"/>
<rect class="or" y="696.03" height="27.37"/>
<rect class="cr" y="723.40" height="0.60"/>
<rect class="lb" y="724.85" height="0.95"/>
</g>
<g transform="translate(1014.74,0)">
<rect class="ol" y="354.93" height="6.11"/>
<rect class="bl" y="361.04" height="2.70"/>
<rect class="yg" y="363.74" height="39.55"/>
<rect class="lbg" y="403.29" height="1.80"/>
<rect class="sg" y="405.09" height="10.79"/>
<rect class="cr" y="415.87" height="27.87"/>
<rect class="pe" y="443.74" height="5.03"/>
<rect class="kh" y="448.78" height="12.41"/>
<rect class="br" y="461.18" height="1.08"/>
<rect class="ol" y="462.26" height="18.88"/>
<rect class="bl" y="481.14" height="18.72"/>
<rect class="or" y="499.86" height="13.30"/>
<rect class="yg" y="513.17" height="13.69"/>
<rect class="lbg" y="526.86" height="0.32"/>
<rect class="sg" y="527.18" height="2.37"/>
<rect class="cr" y="529.55" height="5.03"/>
<rect class="lt" y="534.59" height="0.81"/>
<rect class="lt" y="535.40" height="0.81"/>
<rect class="br" y="536.21" height="14.02"/>
<rect class="ol" y="550.23" height="1.19"/>
<rect class="or" y="551.42" height="2.25"/>
<rect class="yg" y="553.67" height="2.49"/>
<rect class="lb" y="556.16" height="3.96"/>
<rect class="sg" y="560.12" height="19.42"/>
<rect class="cr" y="579.54" height="7.01"/>
<rect class="br" y="586.55" height="0.77"/>
<rect class="lt" y="587.32" height="1.78"/>
<rect class="ol" y="589.10" height="1.01"/>
<rect class="bl" y="590.10" height="0.77"/>
<rect class="lo" y="590.88" height="0.77"/>
<rect class="yg" y="591.65" height="1.08"/>
<rect class="lbg" y="592.73" height="1.55"/>
<rect class="sg" y="594.28" height="8.09"/>
<rect class="cr" y="602.37" height="1.21"/>
<rect class="pe" y="603.58" height="0.81"/>
<rect class="wh" y="604.38" height="0.50"/>
<rect class="ol" y="604.89" height="0.86"/>
<rect class="lt" y="605.74" height="0.70"/>
<rect class="bl" y="606.45" height="0.96"/>
<rect class="or" y="607.40" height="22.47"/>
<rect class="yg" y="629.88" height="20.14"/>
<rect class="lbg" y="650.01" height="1.01"/>
<rect class="sg" y="651.02" height="2.59"/>
<rect class="cr" y="653.61" height="6.29"/>
<rect class="pe" y="659.90" height="2.70"/>
<rect class="kh" y="662.60" height="1.85"/>
<rect class="br" y="664.45" height="0.74"/>
<rect class="lt" y="665.19" height="1.11"/>
<rect class="ol" y="666.30" height="29.74"/>
<rect class="bl" y="696.03" height="2.69"/>
<rect class="or" y="698.73" height="25.57"/>
<rect class="lb" y="724.30" height="0.50"/>
</g>
<g transform="translate(1060.48,0)">
<rect class="ol" y="354.93" height="4.85"/>
<rect class="bl" y="359.78" height="2.16"/>
<rect class="lo" y="361.94" height="1.80"/>
<rect class="yg" y="363.74" height="42.25"/>
<rect class="lbg" y="405.99" height="2.16"/>
<rect class="sg" y="408.14" height="8.99"/>
<rect class="cr" y="417.13" height="25.35"/>
<rect class="pe" y="442.48" height="3.60"/>
<rect class="kh" y="446.08" height="12.59"/>
<rect class="br" y="458.67" height="1.26"/>
<rect class="ol" y="459.92" height="20.14"/>
<rect class="bl" y="480.06" height="19.80"/>
<rect class="or" y="499.86" height="14.92"/>
<rect class="yg" y="514.79" height="12.61"/>
<rect class="lbg" y="527.40" height="0.86"/>
<rect class="sg" y="528.26" height="1.29"/>
<rect class="cr" y="529.55" height="6.29"/>
<rect class="lt" y="535.85" height="0.90"/>
<rect class="lt" y="536.75" height="0.90"/>
<rect class="br" y="537.64" height="10.25"/>
<rect class="ol" y="547.89" height="1.65"/>
<rect class="or" y="549.55" height="3.14"/>
<rect class="yg" y="552.69" height="3.47"/>
<rect class="lb" y="556.16" height="5.21"/>
<rect class="sg" y="561.38" height="18.16"/>
<rect class="cr" y="579.54" height="5.39"/>
<rect class="br" y="584.93" height="0.93"/>
<rect class="lt" y="585.86" height="2.15"/>
<rect class="ol" y="588.02" height="1.22"/>
<rect class="bl" y="589.23" height="0.93"/>
<rect class="lo" y="590.17" height="0.93"/>
<rect class="yg" y="591.10" height="1.31"/>
<rect class="lbg" y="592.41" height="1.87"/>
<rect class="sg" y="594.28" height="7.19"/>
<rect class="cr" y="601.47" height="1.08"/>
<rect class="pe" y="602.55" height="0.72"/>
<rect class="wh" y="603.27" height="0.45"/>
<rect class="ol" y="603.72" height="0.76"/>
<rect class="lt" y="604.48" height="0.63"/>
<rect class="bl" y="605.11" height="0.85"/>
<rect class="or" y="605.97" height="22.47"/>
<rect class="yg" y="628.44" height="20.32"/>
<rect class="lbg" y="648.76" height="0.96"/>
<rect class="sg" y="649.71" height="2.46"/>
<rect class="cr" y="652.17" height="6.83"/>
<rect class="pe" y="659.00" height="4.14"/>
<rect class="kh" y="663.14" height="2.39"/>
<rect class="br" y="665.53" height="0.96"/>
<rect class="lt" y="666.48" height="1.43"/>
<rect class="ol" y="667.92" height="30.81"/>
<rect class="bl" y="698.73" height="2.33"/>
<rect class="or" y="701.06" height="23.24"/>
<rect class="or" y="724.30" height="0.50"/>
</g>
<g transform="translate(1106.22,0)">
<rect class="ol" y="335.87" height="5.03"/>
<rect class="bl" y="340.90" height="2.52"/>
<rect class="lo" y="343.42" height="1.44"/>
<rect class="yg" y="344.86" height="47.11"/>
<rect class="lbg" y="391.96" height="1.98"/>
<rect class="sg" y="393.94" height="9.71"/>
<rect class="cr" y="403.65" height="25.17"/>
<rect class="pe" y="428.82" height="6.29"/>
<rect class="kh" y="435.11" height="13.66"/>
<rect class="br" y="448.78" height="2.16"/>
<rect class="ol" y="450.93" height="18.88"/>
<rect class="bl" y="469.81" height="20.14"/>
<rect class="or" y="489.95" height="15.85"/>
<rect class="yg" y="505.80" height="14.77"/>
<rect class="lbg" y="520.56" height="0.72"/>
<rect class="sg" y="521.28" height="1.08"/>
<rect class="cr" y="522.36" height="4.49"/>
<rect class="lt" y="526.86" height="0.90"/>
<rect class="lt" y="527.76" height="0.90"/>
<rect class="br" y="528.66" height="14.38"/>
<rect class="ol" y="543.04" height="1.69"/>
<rect class="or" y="544.73" height="3.21"/>
<rect class="yg" y="547.94" height="3.55"/>
<rect class="lb" y="551.49" height="2.34"/>
<rect class="sg" y="553.83" height="19.24"/>
<rect class="cr" y="573.06" height="6.47"/>
<rect class="br" y="579.54" height="0.85"/>
<rect class="lt" y="580.38" height="1.94"/>
<rect class="ol" y="582.32" height="1.10"/>
<rect class="bl" y="583.42" height="0.85"/>
<rect class="lo" y="584.27" height="0.85"/>
<rect class="yg" y="585.11" height="1.18"/>
<rect class="lbg" y="586.30" height="1.69"/>
<rect class="sg" y="587.99" height="7.19"/>
<rect class="cr" y="595.18" height="1.17"/>
<rect class="pe" y="596.34" height="0.78"/>
<rect class="wh" y="597.12" height="0.49"/>
<rect class="ol" y="597.61" height="0.83"/>
<rect class="lt" y="598.43" height="0.68"/>
<rect class="bl" y="599.11" height="0.92"/>
<rect class="or" y="600.03" height="27.51"/>
<rect class="yg" y="627.54" height="22.47"/>
<rect class="lbg" y="650.01" height="1.01"/>
<rect class="sg" y="651.02" height="2.59"/>
<rect class="cr" y="653.61" height="7.55"/>
<rect class="pe" y="661.16" height="3.60"/>
<rect class="kh" y="664.76" height="1.94"/>
<rect class="br" y="666.70" height="0.78"/>
<rect class="lt" y="667.47" height="1.16"/>
<rect class="ol" y="668.63" height="30.09"/>
<rect class="bl" y="698.73" height="2.33"/>
<rect class="or" y="701.06" height="23.24"/>
<rect class="or" y="724.30" height="0.50"/>
</g>
<g transform="translate(1151.96,0)">
<rect class="ol" y="355.02" height="5.21"/>
<rect class="bl" y="360.23" height="2.16"/>
<rect class="lo" y="362.39" height="1.44"/>
<rect class="yg" y="363.83" height="45.85"/>
<rect class="lbg" y="409.67" height="1.80"/>
<rect class="sg" y="411.47" height="9.35"/>
<rect class="cr" y="420.82" height="24.27"/>
<rect class="pe" y="445.09" height="3.60"/>
<rect class="kh" y="448.69" height="14.02"/>
<rect class="br" y="462.71" height="1.26"/>
<rect class="ol" y="463.97" height="19.88"/>
<rect class="bl" y="483.85" height="23.19"/>
<rect class="or" y="507.04" height="13.95"/>
<rect class="yg" y="520.99" height="13.48"/>
<rect class="lbg" y="534.48" height="0.32"/>
<rect class="sg" y="534.80" height="2.37"/>
<rect class="cr" y="537.17" height="5.75"/>
<rect class="lt" y="542.93" height="1.08"/>
<rect class="lt" y="544.01" height="1.08"/>
<rect class="br" y="545.08" height="13.48"/>
<rect class="ol" y="558.57" height="1.29"/>
<rect class="or" y="559.86" height="2.46"/>
<rect class="yg" y="562.32" height="2.72"/>
<rect class="lb" y="565.04" height="3.96"/>
<rect class="sg" y="569.00" height="17.98"/>
<rect class="cr" y="586.98" height="5.39"/>
<rect class="br" y="592.37" height="0.63"/>
<rect class="lt" y="593.00" height="1.45"/>
<rect class="ol" y="594.45" height="0.82"/>
<rect class="bl" y="595.26" height="0.63"/>
<rect class="lo" y="595.89" height="0.63"/>
<rect class="yg" y="596.52" height="0.88"/>
<rect class="lbg" y="597.40" height="1.26"/>
<rect class="sg" y="598.66" height="7.19"/>
<rect class="cr" y="605.85" height="1.64"/>
<rect class="pe" y="607.49" height="1.09"/>
<rect class="wh" y="608.59" height="0.68"/>
<rect class="ol" y="609.27" height="1.16"/>
<rect class="lt" y="610.43" height="0.96"/>
<rect class="bl" y="611.39" height="1.30"/>
<rect class="or" y="612.69" height="24.63"/>
<rect class="yg" y="637.32" height="22.47"/>
<rect class="lbg" y="659.79" height="0.76"/>
<rect class="sg" y="660.55" height="1.94"/>
<rect class="cr" y="662.49" height="5.03"/>
<rect class="pe" y="667.52" height="4.49"/>
<rect class="kh" y="672.02" height="1.52"/>
<rect class="br" y="673.53" height="0.61"/>
<rect class="lt" y="674.14" height="0.91"/>
<rect class="ol" y="675.05" height="27.27"/>
<rect class="bl" y="702.32" height="1.44"/>
<rect class="or" y="703.76" height="20.54"/>
<rect class="or" y="724.30" height="0.50"/>
</g>
<g transform="translate(1197.70,0)">
<rect class="ol" y="362.39" height="5.39"/>
<rect class="bl" y="367.78" height="2.34"/>
<rect class="yg" y="370.12" height="47.11"/>
<rect class="lbg" y="417.22" height="2.88"/>
<rect class="sg" y="420.10" height="8.45"/>
<rect class="cr" y="428.55" height="20.32"/>
<rect class="pe" y="448.87" height="3.60"/>
<rect class="kh" y="452.46" height="13.48"/>
<rect class="br" y="465.95" height="1.26"/>
<rect class="ol" y="467.21" height="22.58"/>
<rect class="bl" y="489.78" height="22.58"/>
<rect class="or" y="512.36" height="14.92"/>
<rect class="yg" y="527.29" height="13.84"/>
<rect class="lbg" y="541.13" height="0.32"/>
<rect class="sg" y="541.45" height="2.37"/>
<rect class="cr" y="543.83" height="4.85"/>
<rect class="lt" y="548.68" height="0.72"/>
<rect class="lt" y="549.40" height="0.72"/>
<rect class="br" y="550.12" height="14.02"/>
<rect class="ol" y="564.14" height="1.15"/>
<rect class="or" y="565.29" height="2.19"/>
<rect class="yg" y="567.48" height="2.42"/>
<rect class="lb" y="569.90" height="3.96"/>
<rect class="sg" y="573.85" height="15.82"/>
<rect class="cr" y="589.67" height="5.39"/>
<rect class="br" y="595.07" height="0.63"/>
<rect class="lt" y="595.70" height="1.45"/>
<rect class="ol" y="597.14" height="0.82"/>
<rect class="bl" y="597.96" height="0.63"/>
<rect class="lo" y="598.59" height="0.63"/>
<rect class="yg" y="599.22" height="0.88"/>
<rect class="lbg" y="600.10" height="1.26"/>
<rect class="sg" y="601.36" height="5.93"/>
<rect class="cr" y="607.29" height="1.25"/>
<rect class="pe" y="608.54" height="0.83"/>
<rect class="wh" y="609.38" height="0.52"/>
<rect class="ol" y="609.90" height="0.89"/>
<rect class="lt" y="610.79" height="0.73"/>
<rect class="bl" y="611.52" height="0.99"/>
<rect class="or" y="612.51" height="27.15"/>
<rect class="yg" y="639.65" height="22.29"/>
<rect class="lbg" y="661.95" height="1.16"/>
<rect class="sg" y="663.11" height="2.98"/>
<rect class="cr" y="666.08" height="3.60"/>
<rect class="pe" y="669.68" height="3.60"/>
<rect class="kh" y="673.28" height="0.53"/>
<rect class="br" y="673.80" height="0.21"/>
<rect class="lt" y="674.01" height="0.32"/>
<rect class="ol" y="674.33" height="28.17"/>
<rect class="bl" y="702.50" height="2.16"/>
<rect class="or" y="704.66" height="19.64"/>
<rect class="or" y="724.30" height="0.50"/>
</g>
<g transform="translate(1243.44,0)">
<rect class="ol" y="351.24" height="5.03"/>
<rect class="bl" y="356.27" height="2.16"/>
<rect class="lo" y="358.43" height="1.44"/>
<rect class="yg" y="359.87" height="42.25"/>
<rect class="lbg" y="402.12" height="2.16"/>
<rect class="sg" y="404.28" height="8.99"/>
<rect class="cr" y="413.27" height="22.83"/>
<rect class="pe" y="436.10" height="5.03"/>
<rect class="kh" y="441.14" height="12.59"/>
<rect class="br" y="453.72" height="1.26"/>
<rect class="ol" y="454.98" height="19.78"/>
<rect class="bl" y="474.76" height="27.43"/>
<rect class="or" y="502.19" height="15.03"/>
<rect class="yg" y="517.22" height="13.66"/>
<rect class="lbg" y="530.88" height="1.01"/>
<rect class="sg" y="531.89" height="1.51"/>
<rect class="cr" y="533.40" height="5.93"/>
<rect class="lt" y="539.33" height="0.90"/>
<rect class="lt" y="540.23" height="0.90"/>
<rect class="br" y="541.13" height="13.84"/>
<rect class="ol" y="554.97" height="0.93"/>
<rect class="bl" y="555.90" height="2.16"/>
<rect class="or" y="558.07" height="2.55"/>
<rect class="yg" y="560.62" height="2.09"/>
<rect class="lb" y="562.70" height="2.34"/>
<rect class="sg" y="565.04" height="16.90"/>
<rect class="cr" y="581.94" height="5.93"/>
<rect class="br" y="587.87" height="0.58"/>
<rect class="lt" y="588.45" height="0.86"/>
<rect class="ol" y="589.31" height="1.08"/>
<rect class="bl" y="590.39" height="1.94"/>
<rect class="lo" y="592.33" height="0.36"/>
<rect class="yg" y="592.69" height="1.08"/>
<rect class="lbg" y="593.77" height="1.29"/>
<rect class="sg" y="595.07" height="7.19"/>
<rect class="cr" y="602.26" height="1.60"/>
<rect class="pe" y="603.85" height="1.06"/>
<rect class="wh" y="604.92" height="0.67"/>
<rect class="ol" y="605.58" height="1.13"/>
<rect class="lt" y="606.72" height="0.93"/>
<rect class="bl" y="607.65" height="1.26"/>
<rect class="or" y="608.91" height="26.97"/>
<rect class="yg" y="635.88" height="24.81"/>
<rect class="lbg" y="660.69" height="0.86"/>
<rect class="sg" y="661.55" height="2.20"/>
<rect class="cr" y="663.75" height="5.93"/>
<rect class="pe" y="669.68" height="2.70"/>
<rect class="kh" y="672.38" height="1.25"/>
<rect class="br" y="673.62" height="0.50"/>
<rect class="lt" y="674.12" height="0.75"/>
<rect class="ol" y="674.87" height="27.63"/>
<rect class="bl" y="702.50" height="2.16"/>
<rect class="or" y="704.66" height="19.64"/>
<rect class="or" y="724.30" height="0.50"/>
</g>
<g transform="translate(1289.18,0)">
<rect class="ol" y="367.42" height="5.03"/>
<rect class="bl" y="372.46" height="2.52"/>
<rect class="yg" y="374.97" height="39.73"/>
<rect class="lbg" y="414.71" height="0.36"/>
<rect class="sg" y="415.07" height="8.63"/>
<rect class="cr" y="423.70" height="21.40"/>
<rect class="pe" y="445.09" height="5.03"/>
<rect class="kh" y="450.13" height="12.23"/>
<rect class="br" y="462.35" height="1.26"/>
<rect class="ol" y="463.61" height="18.98"/>
<rect class="bl" y="482.59" height="31.03"/>
<rect class="or" y="513.62" height="13.66"/>
<rect class="yg" y="527.29" height="13.84"/>
<rect class="lbg" y="541.13" height="0.37"/>
<rect class="sg" y="541.50" height="2.69"/>
<rect class="cr" y="544.19" height="5.03"/>
<rect class="lt" y="549.22" height="0.45"/>
<rect class="lt" y="549.67" height="0.45"/>
<rect class="br" y="550.12" height="13.48"/>
<rect class="ol" y="563.60" height="0.93"/>
<rect class="bl" y="564.53" height="2.16"/>
<rect class="or" y="566.70" height="2.55"/>
<rect class="yg" y="569.25" height="2.09"/>
<rect class="lb" y="571.33" height="3.60"/>
<rect class="sg" y="574.93" height="16.00"/>
<rect class="cr" y="590.93" height="5.03"/>
<rect class="br" y="595.97" height="0.55"/>
<rect class="lt" y="596.51" height="0.82"/>
<rect class="ol" y="597.33" height="1.02"/>
<rect class="bl" y="598.36" height="1.84"/>
<rect class="lo" y="600.20" height="0.34"/>
<rect class="yg" y="600.54" height="1.02"/>
<rect class="lbg" y="601.57" height="1.23"/>
<rect class="sg" y="602.80" height="7.19"/>
<rect class="cr" y="609.99" height="1.25"/>
<rect class="pe" y="611.24" height="0.83"/>
<rect class="wh" y="612.07" height="0.52"/>
<rect class="ol" y="612.60" height="0.89"/>
<rect class="lt" y="613.48" height="0.73"/>
<rect class="bl" y="614.21" height="0.99"/>
<rect class="or" y="615.20" height="23.01"/>
<rect class="yg" y="638.22" height="21.57"/>
<rect class="lbg" y="659.79" height="1.11"/>
<rect class="sg" y="660.90" height="2.85"/>
<rect class="cr" y="663.75" height="5.03"/>
<rect class="pe" y="668.78" height="3.60"/>
<rect class="kh" y="672.38" height="1.34"/>
<rect class="br" y="673.71" height="0.53"/>
<rect class="lt" y="674.25" height="0.80"/>
<rect class="ol" y="675.05" height="27.27"/>
<rect class="bl" y="702.32" height="2.33"/>
<rect class="or" y="704.66" height="19.64"/>
<rect class="or" y="724.30" height="0.50"/>
</g>
<g transform="translate(1334.92,0)">
<rect class="ol" y="327.33" height="5.21"/>
<rect class="bl" y="332.54" height="2.16"/>
<rect class="lo" y="334.70" height="1.26"/>
<rect class="yg" y="335.96" height="43.15"/>
<rect class="lbg" y="379.11" height="2.16"/>
<rect class="sg" y="381.27" height="8.63"/>
<rect class="cr" y="389.90" height="25.17"/>
<rect class="pe" y="415.07" height="5.03"/>
<rect class="kh" y="420.10" height="13.84"/>
<rect class="br" y="433.94" height="2.16"/>
<rect class="ol" y="436.10" height="19.96"/>
<rect class="bl" y="456.06" height="37.50"/>
<rect class="or" y="493.56" height="13.48"/>
<rect class="yg" y="507.04" height="16.65"/>
<rect class="lbg" y="523.69" height="1.01"/>
<rect class="sg" y="524.70" height="1.51"/>
<rect class="cr" y="526.21" height="7.73"/>
<rect class="lt" y="533.94" height="0.63"/>
<rect class="lt" y="534.57" height="0.63"/>
<rect class="br" y="535.20" height="14.92"/>
<rect class="ol" y="550.12" height="0.91"/>
<rect class="bl" y="551.02" height="2.11"/>
<rect class="or" y="553.14" height="2.49"/>
<rect class="yg" y="555.63" height="2.04"/>
<rect class="lb" y="557.67" height="3.60"/>
<rect class="sg" y="561.27" height="18.52"/>
<rect class="cr" y="579.78" height="6.29"/>
<rect class="br" y="586.08" height="0.50"/>
<rect class="lt" y="586.58" height="0.76"/>
<rect class="ol" y="587.34" height="0.94"/>
<rect class="bl" y="588.28" height="1.70"/>
<rect class="lo" y="589.98" height="0.31"/>
<rect class="yg" y="590.29" height="0.94"/>
<rect class="lbg" y="591.24" height="1.13"/>
<rect class="sg" y="592.37" height="8.45"/>
<rect class="cr" y="600.82" height="1.64"/>
<rect class="pe" y="602.46" height="1.09"/>
<rect class="wh" y="603.55" height="0.68"/>
<rect class="ol" y="604.24" height="1.16"/>
<rect class="lt" y="605.40" height="0.96"/>
<rect class="bl" y="606.35" height="1.30"/>
<rect class="or" y="607.65" height="24.63"/>
<rect class="yg" y="632.28" height="23.91"/>
<rect class="lbg" y="656.20" height="0.76"/>
<rect class="sg" y="656.95" height="1.94"/>
<rect class="cr" y="658.89" height="6.29"/>
<rect class="pe" y="665.19" height="2.34"/>
<rect class="kh" y="667.52" height="1.61"/>
<rect class="br" y="669.13" height="0.64"/>
<rect class="lt" y="669.77" height="0.96"/>
<rect class="ol" y="670.73" height="30.33"/>
<rect class="bl" y="701.06" height="1.26"/>
<rect class="or" y="702.32" height="21.98"/>
<rect class="lb" y="724.30" height="0.50"/>
</g>
<g transform="translate(1380.66,0)">
<rect class="ol" y="326.07" height="5.03"/>
<rect class="bl" y="331.10" height="2.52"/>
<rect class="lo" y="333.62" height="2.34"/>
<rect class="yg" y="335.96" height="44.95"/>
<rect class="lbg" y="380.91" height="1.80"/>
<rect class="sg" y="382.70" height="9.53"/>
<rect class="cr" y="392.23" height="24.09"/>
<rect class="pe" y="416.33" height="3.78"/>
<rect class="kh" y="420.10" height="14.74"/>
<rect class="br" y="434.84" height="2.34"/>
<rect class="ol" y="437.18" height="18.88"/>
<rect class="bl" y="456.06" height="38.76"/>
<rect class="or" y="494.82" height="13.59"/>
<rect class="yg" y="508.41" height="15.28"/>
<rect class="lbg" y="523.69" height="0.32"/>
<rect class="sg" y="524.01" height="2.37"/>
<rect class="cr" y="526.39" height="7.19"/>
<rect class="lt" y="533.58" height="0.81"/>
<rect class="lt" y="534.39" height="0.81"/>
<rect class="br" y="535.20" height="13.48"/>
<rect class="ol" y="548.68" height="0.78"/>
<rect class="bl" y="549.46" height="1.81"/>
<rect class="or" y="551.27" height="2.14"/>
<rect class="yg" y="553.41" height="1.75"/>
<rect class="lb" y="555.15" height="3.60"/>
<rect class="sg" y="558.75" height="18.34"/>
<rect class="cr" y="577.09" height="6.29"/>
<rect class="br" y="583.38" height="0.53"/>
<rect class="lt" y="583.91" height="0.80"/>
<rect class="ol" y="584.71" height="1.00"/>
<rect class="bl" y="585.71" height="1.80"/>
<rect class="lo" y="587.50" height="0.33"/>
<rect class="yg" y="587.84" height="1.00"/>
<rect class="lbg" y="588.83" height="1.20"/>
<rect class="sg" y="590.03" height="6.83"/>
<rect class="cr" y="596.86" height="1.73"/>
<rect class="pe" y="598.59" height="1.15"/>
<rect class="wh" y="599.74" height="0.72"/>
<rect class="ol" y="600.46" height="1.22"/>
<rect class="lt" y="601.68" height="1.01"/>
<rect class="bl" y="602.69" height="1.37"/>
<rect class="or" y="604.06" height="26.97"/>
<rect class="yg" y="631.02" height="22.47"/>
<rect class="lbg" y="653.50" height="1.01"/>
<rect class="sg" y="654.51" height="2.59"/>
<rect class="cr" y="657.09" height="6.83"/>
<rect class="pe" y="663.93" height="3.60"/>
<rect class="kh" y="667.52" height="1.16"/>
<rect class="br" y="668.68" height="0.46"/>
<rect class="lt" y="669.14" height="0.69"/>
<rect class="ol" y="669.84" height="31.23"/>
<rect class="bl" y="701.06" height="1.26"/>
<rect class="or" y="702.32" height="21.98"/>
<rect class="or" y="724.30" height="0.50"/>
</g>
<g transform="translate(1426.40,0)">
<rect class="ol" y="313.48" height="4.14"/>
<rect class="bl" y="317.62" height="2.16"/>
<rect class="lo" y="319.78" height="1.26"/>
<rect class="yg" y="321.04" height="45.85"/>
<rect class="lbg" y="366.88" height="2.34"/>
<rect class="sg" y="369.22" height="8.09"/>
<rect class="cr" y="377.31" height="26.43"/>
<rect class="pe" y="403.74" height="5.03"/>
<rect class="kh" y="408.77" height="12.59"/>
<rect class="br" y="421.36" height="2.16"/>
<rect class="ol" y="423.52" height="19.42"/>
<rect class="bl" y="442.93" height="40.56"/>
<rect class="or" y="483.49" height="13.84"/>
<rect class="yg" y="497.34" height="13.59"/>
<rect class="lbg" y="510.92" height="0.50"/>
<rect class="sg" y="511.42" height="3.64"/>
<rect class="cr" y="515.06" height="8.09"/>
<rect class="lt" y="523.15" height="0.45"/>
<rect class="lt" y="523.60" height="0.45"/>
<rect class="br" y="524.05" height="14.38"/>
<rect class="ol" y="538.43" height="0.97"/>
<rect class="bl" y="539.40" height="2.27"/>
<rect class="or" y="541.67" height="2.67"/>
<rect class="yg" y="544.34" height="2.18"/>
<rect class="lb" y="546.52" height="3.60"/>
<rect class="sg" y="550.12" height="19.78"/>
<rect class="cr" y="569.90" height="5.39"/>
<rect class="br" y="575.29" height="0.58"/>
<rect class="lt" y="575.86" height="0.86"/>
<rect class="ol" y="576.73" height="1.08"/>
<rect class="bl" y="577.81" height="1.94"/>
<rect class="lo" y="579.75" height="0.36"/>
<rect class="yg" y="580.11" height="1.08"/>
<rect class="lbg" y="581.19" height="1.29"/>
<rect class="sg" y="582.48" height="9.89"/>
<rect class="cr" y="592.37" height="1.60"/>
<rect class="pe" y="593.97" height="1.06"/>
<rect class="wh" y="595.03" height="0.67"/>
<rect class="ol" y="595.70" height="1.13"/>
<rect class="lt" y="596.83" height="0.93"/>
<rect class="bl" y="597.76" height="1.26"/>
<rect class="or" y="599.02" height="24.27"/>
<rect class="yg" y="623.29" height="26.61"/>
<rect class="lbg" y="649.90" height="0.76"/>
<rect class="sg" y="650.66" height="1.94"/>
<rect class="cr" y="652.60" height="6.29"/>
<rect class="pe" y="658.89" height="3.60"/>
<rect class="kh" y="662.49" height="1.34"/>
<rect class="br" y="663.83" height="0.54"/>
<rect class="lt" y="664.36" height="0.80"/>
<rect class="ol" y="665.16" height="32.31"/>
<rect class="bl" y="697.47" height="2.33"/>
<rect class="or" y="699.81" height="24.49"/>
<rect class="lb" y="724.30" height="0.50"/>
</g>
<g transform="translate(1472.14,0)">
<rect class="ol" y="317.44" height="3.78"/>
<rect class="bl" y="321.22" height="3.42"/>
<rect class="lo" y="324.63" height="1.44"/>
<rect class="yg" y="326.07" height="40.99"/>
<rect class="lbg" y="367.06" height="2.16"/>
<rect class="sg" y="369.22" height="8.09"/>
<rect class="cr" y="377.31" height="26.43"/>
<rect class="pe" y="403.74" height="5.03"/>
<rect class="kh" y="408.77" height="14.02"/>
<rect class="br" y="422.80" height="2.16"/>
<rect class="ol" y="424.96" height="17.98"/>
<rect class="bl" y="442.93" height="42.00"/>
<rect class="or" y="484.93" height="13.48"/>
<rect class="yg" y="498.41" height="13.95"/>
<rect class="lbg" y="512.36" height="0.32"/>
<rect class="sg" y="512.69" height="2.37"/>
<rect class="cr" y="515.06" height="8.99"/>
<rect class="lt" y="524.05" height="0.45"/>
<rect class="lt" y="524.50" height="0.45"/>
<rect class="br" y="524.95" height="13.48"/>
<rect class="ol" y="538.43" height="0.97"/>
<rect class="bl" y="539.40" height="2.27"/>
<rect class="or" y="541.67" height="2.67"/>
<rect class="yg" y="544.34" height="2.18"/>
<rect class="lb" y="546.52" height="3.60"/>
<rect class="sg" y="550.12" height="19.78"/>
<rect class="cr" y="569.90" height="4.85"/>
<rect class="br" y="574.75" height="0.62"/>
<rect class="lt" y="575.37" height="0.93"/>
<rect class="ol" y="576.30" height="1.16"/>
<rect class="bl" y="577.46" height="2.09"/>
<rect class="lo" y="579.54" height="0.39"/>
<rect class="yg" y="579.93" height="1.16"/>
<rect class="lbg" y="581.09" height="1.39"/>
<rect class="sg" y="582.48" height="8.45"/>
<rect class="cr" y="590.93" height="1.64"/>
<rect class="pe" y="592.57" height="1.09"/>
<rect class="wh" y="593.66" height="0.68"/>
<rect class="ol" y="594.35" height="1.16"/>
<rect class="lt" y="595.51" height="0.96"/>
<rect class="bl" y="596.47" height="1.30"/>
<rect class="or" y="597.76" height="24.27"/>
<rect class="yg" y="622.04" height="25.17"/>
<rect class="lbg" y="647.21" height="1.11"/>
<rect class="sg" y="648.31" height="2.85"/>
<rect class="cr" y="651.16" height="6.47"/>
<rect class="pe" y="657.63" height="3.42"/>
<rect class="kh" y="661.05" height="1.38"/>
<rect class="br" y="662.43" height="0.55"/>
<rect class="lt" y="662.99" height="0.83"/>
<rect class="ol" y="663.82" height="32.40"/>
<rect class="bl" y="696.21" height="2.16"/>
<rect class="or" y="698.37" height="25.93"/>
<rect class="lb" y="724.30" height="0.50"/>
</g>
<g transform="translate(1517.88,0)">
<rect class="ol" y="321.22" height="6.29"/>
<rect class="bl" y="327.51" height="2.52"/>
<rect class="lo" y="330.03" height="1.08"/>
<rect class="yg" y="331.10" height="42.97"/>
<rect class="lbg" y="374.07" height="2.34"/>
<rect class="sg" y="376.41" height="8.45"/>
<rect class="cr" y="384.86" height="23.91"/>
<rect class="pe" y="408.77" height="4.85"/>
<rect class="kh" y="413.63" height="14.92"/>
<rect class="br" y="428.55" height="1.26"/>
<rect class="ol" y="429.81" height="20.32"/>
<rect class="bl" y="450.13" height="36.96"/>
<rect class="or" y="487.09" height="13.93"/>
<rect class="yg" y="501.02" height="14.04"/>
<rect class="lbg" y="515.06" height="0.32"/>
<rect class="sg" y="515.38" height="2.37"/>
<rect class="cr" y="517.76" height="9.35"/>
<rect class="lt" y="527.11" height="0.27"/>
<rect class="lt" y="527.38" height="0.27"/>
<rect class="br" y="527.64" height="14.38"/>
<rect class="ol" y="542.03" height="0.93"/>
<rect class="bl" y="542.96" height="2.16"/>
<rect class="or" y="545.12" height="2.55"/>
<rect class="yg" y="547.67" height="2.09"/>
<rect class="lb" y="549.76" height="3.06"/>
<rect class="sg" y="552.82" height="20.32"/>
<rect class="cr" y="573.13" height="6.65"/>
<rect class="br" y="579.78" height="0.62"/>
<rect class="lt" y="580.40" height="0.93"/>
<rect class="ol" y="581.33" height="1.16"/>
<rect class="bl" y="582.49" height="2.09"/>
<rect class="lo" y="584.58" height="0.39"/>
<rect class="yg" y="584.96" height="1.16"/>
<rect class="lbg" y="586.12" height="1.39"/>
<rect class="sg" y="587.52" height="8.99"/>
<rect class="cr" y="596.50" height="1.17"/>
<rect class="pe" y="597.67" height="0.78"/>
<rect class="wh" y="598.45" height="0.49"/>
<rect class="ol" y="598.93" height="0.83"/>
<rect class="lt" y="599.76" height="0.68"/>
<rect class="bl" y="600.44" height="0.92"/>
<rect class="or" y="601.36" height="21.93"/>
<rect class="yg" y="623.29" height="25.17"/>
<rect class="lbg" y="648.46" height="1.06"/>
<rect class="sg" y="649.52" height="2.72"/>
<rect class="cr" y="652.24" height="7.55"/>
<rect class="pe" y="659.79" height="2.70"/>
<rect class="kh" y="662.49" height="1.25"/>
<rect class="br" y="663.74" height="0.50"/>
<rect class="lt" y="664.24" height="0.75"/>
<rect class="ol" y="664.98" height="33.74"/>
<rect class="bl" y="698.73" height="2.33"/>
<rect class="or" y="701.06" height="23.24"/>
<rect class="lb" y="724.30" height="0.50"/>
</g>
<g transform="translate(1563.62,0)">
<rect class="ol" y="319.78" height="6.29"/>
<rect class="bl" y="326.07" height="2.70"/>
<rect class="yg" y="328.77" height="44.95"/>
<rect class="lbg" y="373.71" height="1.44"/>
<rect class="sg" y="375.15" height="8.45"/>
<rect class="cr" y="383.60" height="22.47"/>
<rect class="pe" y="406.08" height="5.03"/>
<rect class="kh" y="411.11" height="15.28"/>
<rect class="br" y="426.39" height="1.80"/>
<rect class="ol" y="428.19" height="19.60"/>
<rect class="bl" y="447.79" height="37.05"/>
<rect class="or" y="484.84" height="12.50"/>
<rect class="yg" y="497.34" height="15.93"/>
<rect class="lbg" y="513.26" height="0.39"/>
<rect class="sg" y="513.65" height="2.85"/>
<rect class="cr" y="516.50" height="12.05"/>
<rect class="lt" y="528.54" height="0.72"/>
<rect class="lt" y="529.26" height="0.72"/>
<rect class="br" y="529.98" height="13.30"/>
<rect class="ol" y="543.29" height="0.97"/>
<rect class="bl" y="544.26" height="2.27"/>
<rect class="or" y="546.52" height="2.67"/>
<rect class="yg" y="549.19" height="2.18"/>
<rect class="lb" y="551.38" height="3.60"/>
<rect class="sg" y="554.97" height="19.78"/>
<rect class="cr" y="574.75" height="6.29"/>
<rect class="br" y="581.04" height="0.55"/>
<rect class="lt" y="581.59" height="0.82"/>
<rect class="ol" y="582.41" height="1.02"/>
<rect class="bl" y="583.43" height="1.84"/>
<rect class="lo" y="585.28" height="0.34"/>
<rect class="yg" y="585.62" height="1.02"/>
<rect class="lbg" y="586.65" height="1.23"/>
<rect class="sg" y="587.87" height="8.09"/>
<rect class="cr" y="595.97" height="1.60"/>
<rect class="pe" y="597.56" height="1.06"/>
<rect class="wh" y="598.63" height="0.67"/>
<rect class="ol" y="599.29" height="1.13"/>
<rect class="lt" y="600.42" height="0.93"/>
<rect class="bl" y="601.35" height="1.26"/>
<rect class="or" y="602.62" height="22.11"/>
<rect class="yg" y="624.73" height="23.73"/>
<rect class="lbg" y="648.46" height="1.16"/>
<rect class="sg" y="649.62" height="2.98"/>
<rect class="cr" y="652.60" height="6.29"/>
<rect class="pe" y="658.89" height="3.24"/>
<rect class="kh" y="662.13" height="1.43"/>
<rect class="br" y="663.56" height="0.57"/>
<rect class="lt" y="664.13" height="0.86"/>
<rect class="ol" y="664.98" height="32.49"/>
<rect class="bl" y="697.47" height="2.33"/>
<rect class="or" y="699.81" height="24.49"/>
<rect class="or" y="724.30" height="0.50"/>
</g>
<g transform="translate(1609.36,0)">
<rect class="ol" y="335.96" height="5.39"/>
<rect class="bl" y="341.35" height="2.16"/>
<rect class="lo" y="343.51" height="1.44"/>
<rect class="yg" y="344.95" height="41.35"/>
<rect class="lbg" y="386.30" height="1.80"/>
<rect class="sg" y="388.10" height="8.09"/>
<rect class="cr" y="396.19" height="21.57"/>
<rect class="pe" y="417.76" height="3.24"/>
<rect class="kh" y="421.00" height="13.84"/>
<rect class="br" y="434.84" height="2.70"/>
<rect class="ol" y="437.54" height="18.52"/>
<rect class="bl" y="456.06" height="33.91"/>
<rect class="or" y="489.96" height="11.06"/>
<rect class="yg" y="501.02" height="18.89"/>
<rect class="lbg" y="519.91" height="0.32"/>
<rect class="sg" y="520.24" height="2.37"/>
<rect class="cr" y="522.61" height="10.79"/>
<rect class="lt" y="533.40" height="0.72"/>
<rect class="lt" y="534.12" height="0.72"/>
<rect class="br" y="534.84" height="12.59"/>
<rect class="ol" y="547.42" height="0.91"/>
<rect class="bl" y="548.33" height="2.11"/>
<rect class="or" y="550.44" height="2.49"/>
<rect class="yg" y="552.93" height="2.04"/>
<rect class="lb" y="554.97" height="2.70"/>
<rect class="sg" y="557.67" height="19.42"/>
<rect class="cr" y="577.09" height="5.39"/>
<rect class="br" y="582.48" height="0.58"/>
<rect class="lt" y="583.06" height="0.86"/>
<rect class="ol" y="583.92" height="1.08"/>
<rect class="bl" y="585.00" height="1.94"/>
<rect class="lo" y="586.94" height="0.36"/>
<rect class="yg" y="587.30" height="1.08"/>
<rect class="lbg" y="588.38" height="1.29"/>
<rect class="sg" y="589.67" height="8.63"/>
<rect class="cr" y="598.30" height="1.60"/>
<rect class="pe" y="599.90" height="1.06"/>
<rect class="wh" y="600.96" height="0.67"/>
<rect class="ol" y="601.63" height="1.13"/>
<rect class="lt" y="602.76" height="0.93"/>
<rect class="bl" y="603.69" height="1.26"/>
<rect class="or" y="604.96" height="22.47"/>
<rect class="yg" y="627.43" height="21.93"/>
<rect class="lbg" y="649.36" height="1.26"/>
<rect class="sg" y="650.62" height="3.24"/>
<rect class="cr" y="653.86" height="5.93"/>
<rect class="pe" y="659.79" height="2.34"/>
<rect class="kh" y="662.13" height="1.97"/>
<rect class="br" y="664.10" height="0.79"/>
<rect class="lt" y="664.88" height="1.18"/>
<rect class="ol" y="666.06" height="31.41"/>
<rect class="bl" y="697.47" height="2.33"/>
<rect class="or" y="699.81" height="24.49"/>
<rect class="lb" y="724.30" height="0.50"/>
</g>
<g transform="translate(1655.10,0)">
<rect class="ol" y="314.92" height="4.85"/>
<rect class="bl" y="319.78" height="3.60"/>
<rect class="lo" y="323.37" height="1.26"/>
<rect class="yg" y="324.63" height="42.79"/>
<rect class="lbg" y="367.42" height="1.80"/>
<rect class="sg" y="369.22" height="6.83"/>
<rect class="cr" y="376.05" height="21.57"/>
<rect class="pe" y="397.63" height="4.85"/>
<rect class="kh" y="402.48" height="15.28"/>
<rect class="br" y="417.76" height="2.16"/>
<rect class="ol" y="419.92" height="17.62"/>
<rect class="bl" y="437.54" height="42.25"/>
<rect class="or" y="479.79" height="13.77"/>
<rect class="yg" y="493.56" height="21.14"/>
<rect class="lbg" y="514.70" height="0.47"/>
<rect class="sg" y="515.17" height="3.48"/>
<rect class="cr" y="518.66" height="9.89"/>
<rect class="lt" y="528.54" height="0.72"/>
<rect class="lt" y="529.26" height="0.72"/>
<rect class="br" y="529.98" height="12.41"/>
<rect class="ol" y="542.39" height="1.08"/>
<rect class="bl" y="543.47" height="2.52"/>
<rect class="or" y="545.98" height="2.97"/>
<rect class="yg" y="548.95" height="2.43"/>
<rect class="lb" y="551.38" height="3.60"/>
<rect class="sg" y="554.97" height="19.78"/>
<rect class="cr" y="574.75" height="5.39"/>
<rect class="br" y="580.14" height="0.72"/>
<rect class="lt" y="580.86" height="1.08"/>
<rect class="ol" y="581.94" height="1.35"/>
<rect class="bl" y="583.29" height="2.43"/>
<rect class="lo" y="585.72" height="0.45"/>
<rect class="yg" y="586.17" height="1.35"/>
<rect class="lbg" y="587.52" height="1.62"/>
<rect class="sg" y="589.13" height="8.09"/>
<rect class="cr" y="597.22" height="1.64"/>
<rect class="pe" y="598.86" height="1.09"/>
<rect class="wh" y="599.96" height="0.68"/>
<rect class="ol" y="600.64" height="1.16"/>
<rect class="lt" y="601.80" height="0.96"/>
<rect class="bl" y="602.76" height="1.30"/>
<rect class="or" y="604.06" height="23.37"/>
<rect class="yg" y="627.43" height="21.04"/>
<rect class="lbg" y="648.46" height="1.06"/>
<rect class="sg" y="649.52" height="2.72"/>
<rect class="cr" y="652.24" height="5.39"/>
<rect class="pe" y="657.63" height="3.42"/>
<rect class="kh" y="661.05" height="1.97"/>
<rect class="br" y="663.02" height="0.79"/>
<rect class="lt" y="663.80" height="1.18"/>
<rect class="ol" y="664.98" height="33.38"/>
<rect class="bl" y="698.37" height="1.44"/>
<rect class="or" y="699.81" height="24.49"/>
<rect class="lb" y="724.30" height="0.50"/>
</g>
<g transform="translate(1700.84,0)">
<rect class="ol" y="347.29" height="3.96"/>
<rect class="bl" y="351.24" height="2.16"/>
<rect class="lo" y="353.40" height="1.08"/>
<rect class="yg" y="354.48" height="39.01"/>
<rect class="lbg" y="393.49" height="1.44"/>
<rect class="sg" y="394.93" height="7.19"/>
<rect class="cr" y="402.12" height="19.24"/>
<rect class="pe" y="421.36" height="4.85"/>
<rect class="kh" y="426.21" height="13.66"/>
<rect class="br" y="439.88" height="1.26"/>
<rect class="ol" y="441.14" height="20.14"/>
<rect class="bl" y="461.27" height="37.14"/>
<rect class="or" y="498.41" height="12.51"/>
<rect class="yg" y="510.92" height="23.91"/>
<rect class="lbg" y="534.84" height="0.47"/>
<rect class="sg" y="535.31" height="3.48"/>
<rect class="cr" y="538.79" height="10.97"/>
<rect class="lt" y="549.76" height="0.18"/>
<rect class="lt" y="549.94" height="0.18"/>
<rect class="br" y="550.12" height="12.23"/>
<rect class="ol" y="562.34" height="0.91"/>
<rect class="bl" y="563.25" height="2.11"/>
<rect class="or" y="565.36" height="2.49"/>
<rect class="yg" y="567.86" height="2.04"/>
<rect class="lb" y="569.90" height="2.70"/>
<rect class="sg" y="572.59" height="18.34"/>
<rect class="cr" y="590.93" height="5.03"/>
<rect class="br" y="595.97" height="0.55"/>
<rect class="lt" y="596.51" height="0.82"/>
<rect class="ol" y="597.33" height="1.02"/>
<rect class="bl" y="598.36" height="1.84"/>
<rect class="lo" y="600.20" height="0.34"/>
<rect class="yg" y="600.54" height="1.02"/>
<rect class="lbg" y="601.57" height="1.23"/>
<rect class="sg" y="602.80" height="7.19"/>
<rect class="cr" y="609.99" height="1.25"/>
<rect class="pe" y="611.24" height="0.83"/>
<rect class="wh" y="612.07" height="0.52"/>
<rect class="ol" y="612.60" height="0.89"/>
<rect class="lt" y="613.48" height="0.73"/>
<rect class="bl" y="614.21" height="0.99"/>
<rect class="or" y="615.20" height="22.11"/>
<rect class="yg" y="637.32" height="24.81"/>
<rect class="lbg" y="662.13" height="1.11"/>
<rect class="sg" y="663.24" height="2.85"/>
<rect class="cr" y="666.08" height="5.03"/>
<rect class="pe" y="671.12" height="2.70"/>
<rect class="kh" y="673.82" height="1.07"/>
<rect class="br" y="674.88" height="0.43"/>
<rect class="lt" y="675.31" height="0.64"/>
<rect class="ol" y="675.95" height="28.71"/>
<rect class="bl" y="704.66" height="1.26"/>
<rect class="or" y="705.91" height="18.39"/>
<rect class="or" y="724.30" height="0.50"/>
</g>
<g transform="translate(1746.58,0)">
<rect class="ol" y="321.04" height="5.03"/>
<rect class="bl" y="326.07" height="2.34"/>
<rect class="lo" y="328.41" height="1.26"/>
<rect class="yg" y="329.67" height="38.66"/>
<rect class="lbg" y="368.32" height="1.80"/>
<rect class="sg" y="370.12" height="7.19"/>
<rect class="cr" y="377.31" height="21.57"/>
<rect class="pe" y="398.89" height="3.60"/>
<rect class="kh" y="402.48" height="15.28"/>
<rect class="br" y="417.76" height="0.90"/>
<rect class="ol" y="418.66" height="22.47"/>
<rect class="bl" y="441.14" height="47.30"/>
<rect class="or" y="488.44" height="12.59"/>
<rect class="yg" y="501.02" height="26.08"/>
<rect class="lbg" y="527.11" height="0.50"/>
<rect class="sg" y="527.60" height="3.64"/>
<rect class="cr" y="531.24" height="11.33"/>
<rect class="lt" y="542.57" height="0.63"/>
<rect class="lt" y="543.20" height="0.63"/>
<rect class="br" y="543.83" height="11.15"/>
<rect class="ol" y="554.97" height="0.93"/>
<rect class="bl" y="555.90" height="2.16"/>
<rect class="or" y="558.07" height="2.55"/>
<rect class="yg" y="560.62" height="2.09"/>
<rect class="lb" y="562.70" height="2.34"/>
<rect class="sg" y="565.04" height="17.98"/>
<rect class="cr" y="583.02" height="5.75"/>
<rect class="br" y="588.77" height="0.58"/>
<rect class="lt" y="589.35" height="0.86"/>
<rect class="ol" y="590.21" height="1.08"/>
<rect class="bl" y="591.29" height="1.94"/>
<rect class="lo" y="593.23" height="0.36"/>
<rect class="yg" y="593.59" height="1.08"/>
<rect class="lbg" y="594.67" height="1.29"/>
<rect class="sg" y="595.97" height="8.99"/>
<rect class="cr" y="604.96" height="1.21"/>
<rect class="pe" y="606.16" height="0.81"/>
<rect class="wh" y="606.97" height="0.50"/>
<rect class="ol" y="607.47" height="0.86"/>
<rect class="lt" y="608.33" height="0.70"/>
<rect class="bl" y="609.03" height="0.96"/>
<rect class="or" y="609.99" height="25.89"/>
<rect class="yg" y="635.88" height="26.25"/>
<rect class="lbg" y="662.13" height="1.11"/>
<rect class="sg" y="663.24" height="2.85"/>
<rect class="cr" y="666.08" height="5.03"/>
<rect class="pe" y="671.12" height="2.52"/>
<rect class="kh" y="673.64" height="1.25"/>
<rect class="br" y="674.88" height="0.50"/>
<rect class="lt" y="675.38" height="0.75"/>
<rect class="ol" y="676.13" height="28.53"/>
<rect class="bl" y="704.66" height="1.26"/>
<rect class="or" y="705.91" height="18.39"/>
<rect class="or" y="724.30" height="0.50"/>
</g>
<g transform="translate(1792.32,0)">
<rect class="ol" y="322.47" height="5.03"/>
<rect class="bl" y="327.51" height="2.16"/>
<rect class="lo" y="329.67" height="1.26"/>
<rect class="yg" y="330.92" height="40.63"/>
<rect class="lbg" y="371.56" height="1.26"/>
<rect class="sg" y="372.82" height="8.09"/>
<rect class="cr" y="380.91" height="21.57"/>
<rect class="pe" y="402.48" height="6.29"/>
<rect class="kh" y="408.77" height="13.84"/>
<rect class="br" y="422.62" height="1.44"/>
<rect class="ol" y="424.06" height="17.08"/>
<rect class="bl" y="441.14" height="42.36"/>
<rect class="or" y="483.49" height="12.59"/>
<rect class="yg" y="496.08" height="24.92"/>
<rect class="lbg" y="520.99" height="0.47"/>
<rect class="sg" y="521.47" height="3.48"/>
<rect class="cr" y="524.95" height="14.02"/>
<rect class="lt" y="538.97" height="0.63"/>
<rect class="lt" y="539.60" height="0.63"/>
<rect class="br" y="540.23" height="11.69"/>
<rect class="ol" y="551.92" height="0.97"/>
<rect class="bl" y="552.89" height="2.27"/>
<rect class="or" y="555.15" height="2.67"/>
<rect class="yg" y="557.82" height="2.18"/>
<rect class="lb" y="560.01" height="3.60"/>
<rect class="sg" y="563.60" height="18.34"/>
<rect class="cr" y="581.94" height="5.03"/>
<rect class="br" y="586.98" height="0.65"/>
<rect class="lt" y="587.62" height="0.97"/>
<rect class="ol" y="588.59" height="1.21"/>
<rect class="bl" y="589.81" height="2.18"/>
<rect class="lo" y="591.99" height="0.40"/>
<rect class="yg" y="592.40" height="1.21"/>
<rect class="lbg" y="593.61" height="1.46"/>
<rect class="sg" y="595.07" height="8.63"/>
<rect class="cr" y="603.70" height="1.25"/>
<rect class="pe" y="604.95" height="0.83"/>
<rect class="wh" y="605.78" height="0.52"/>
<rect class="ol" y="606.30" height="0.89"/>
<rect class="lt" y="607.19" height="0.73"/>
<rect class="bl" y="607.92" height="0.99"/>
<rect class="or" y="608.91" height="24.45"/>
<rect class="yg" y="633.36" height="25.17"/>
<rect class="lbg" y="658.53" height="1.36"/>
<rect class="sg" y="659.89" height="3.50"/>
<rect class="cr" y="663.39" height="5.39"/>
<rect class="pe" y="668.78" height="2.34"/>
<rect class="kh" y="671.12" height="1.43"/>
<rect class="br" y="672.54" height="0.57"/>
<rect class="lt" y="673.11" height="0.86"/>
<rect class="ol" y="673.97" height="29.43"/>
<rect class="bl" y="703.40" height="1.26"/>
<rect class="or" y="704.66" height="19.64"/>
<rect class="or" y="724.30" height="0.50"/>
</g>
<g transform="translate(1838.06,0)">
<rect class="ol" y="352.14" height="5.39"/>
<rect class="bl" y="357.53" height="2.34"/>
<rect class="lo" y="359.87" height="1.26"/>
<rect class="yg" y="361.13" height="35.96"/>
<rect class="lbg" y="397.09" height="1.80"/>
<rect class="sg" y="398.89" height="7.19"/>
<rect class="cr" y="406.08" height="19.78"/>
<rect class="pe" y="425.85" height="5.39"/>
<rect class="kh" y="431.25" height="12.59"/>
<rect class="br" y="443.83" height="2.16"/>
<rect class="ol" y="445.99" height="19.06"/>
<rect class="bl" y="465.05" height="44.62"/>
<rect class="or" y="509.67" height="11.33"/>
<rect class="yg" y="520.99" height="20.14"/>
<rect class="lbg" y="541.13" height="0.43"/>
<rect class="sg" y="541.56" height="3.16"/>
<rect class="cr" y="544.72" height="14.38"/>
<rect class="lt" y="559.11" height="0.45"/>
<rect class="lt" y="559.56" height="0.45"/>
<rect class="br" y="560.01" height="10.79"/>
<rect class="ol" y="570.79" height="0.97"/>
<rect class="bl" y="571.77" height="2.27"/>
<rect class="or" y="574.03" height="2.67"/>
<rect class="yg" y="576.70" height="2.18"/>
<rect class="lb" y="578.89" height="2.34"/>
<rect class="sg" y="581.22" height="15.64"/>
<rect class="cr" y="596.86" height="4.85"/>
<rect class="br" y="601.72" height="0.58"/>
<rect class="lt" y="602.29" height="0.86"/>
<rect class="ol" y="603.16" height="1.08"/>
<rect class="bl" y="604.24" height="1.94"/>
<rect class="lo" y="606.18" height="0.36"/>
<rect class="yg" y="606.54" height="1.08"/>
<rect class="lbg" y="607.62" height="1.29"/>
<rect class="sg" y="608.91" height="7.19"/>
<rect class="cr" y="616.10" height="1.29"/>
<rect class="pe" y="617.40" height="0.86"/>
<rect class="wh" y="618.26" height="0.54"/>
<rect class="ol" y="618.80" height="0.92"/>
<rect class="lt" y="619.72" height="0.76"/>
<rect class="bl" y="620.47" height="1.02"/>
<rect class="or" y="621.50" height="22.11"/>
<rect class="yg" y="643.61" height="21.22"/>
<rect class="lbg" y="664.83" height="1.11"/>
<rect class="sg" y="665.93" height="2.85"/>
<rect class="cr" y="668.78" height="5.03"/>
<rect class="pe" y="673.82" height="2.16"/>
<rect class="kh" y="675.97" height="1.42"/>
<rect class="br" y="677.40" height="0.57"/>
<rect class="lt" y="677.97" height="0.85"/>
<rect class="ol" y="678.82" height="25.83"/>
<rect class="bl" y="704.66" height="1.26"/>
<rect class="or" y="705.91" height="18.39"/>
<rect class="or" y="724.30" height="0.50"/>
</g>
<g transform="translate(1883.80,0)">
<rect class="ol" y="337.22" height="5.39"/>
<rect class="bl" y="342.61" height="1.98"/>
<rect class="lo" y="344.59" height="1.26"/>
<rect class="yg" y="345.85" height="41.35"/>
<rect class="lbg" y="387.20" height="1.80"/>
<rect class="sg" y="389.00" height="8.09"/>
<rect class="cr" y="397.09" height="22.83"/>
<rect class="pe" y="419.92" height="6.29"/>
<rect class="kh" y="426.21" height="13.66"/>
<rect class="br" y="439.88" height="2.52"/>
<rect class="ol" y="442.39" height="18.88"/>
<rect class="bl" y="461.27" height="25.99"/>
<rect class="or" y="487.27" height="12.23"/>
<rect class="yg" y="499.49" height="20.42"/>
<rect class="lbg" y="519.91" height="0.60"/>
<rect class="sg" y="520.52" height="4.43"/>
<rect class="cr" y="524.95" height="17.44"/>
<rect class="lt" y="542.39" height="0.72"/>
<rect class="lt" y="543.11" height="0.72"/>
<rect class="br" y="543.83" height="11.69"/>
<rect class="ol" y="555.51" height="0.97"/>
<rect class="bl" y="556.48" height="2.27"/>
<rect class="or" y="558.75" height="2.67"/>
<rect class="yg" y="561.42" height="2.18"/>
<rect class="lb" y="563.60" height="3.96"/>
<rect class="sg" y="567.56" height="17.26"/>
<rect class="cr" y="584.82" height="4.49"/>
<rect class="br" y="589.31" height="0.65"/>
<rect class="lt" y="589.96" height="0.97"/>
<rect class="ol" y="590.93" height="1.21"/>
<rect class="bl" y="592.14" height="2.18"/>
<rect class="lo" y="594.33" height="0.40"/>
<rect class="yg" y="594.73" height="1.21"/>
<rect class="lbg" y="595.95" height="1.46"/>
<rect class="sg" y="597.40" height="8.45"/>
<rect class="cr" y="605.85" height="1.29"/>
<rect class="pe" y="607.15" height="0.86"/>
<rect class="wh" y="608.01" height="0.54"/>
<rect class="ol" y="608.55" height="0.92"/>
<rect class="lt" y="609.47" height="0.76"/>
<rect class="bl" y="610.22" height="1.02"/>
<rect class="or" y="611.25" height="21.04"/>
<rect class="yg" y="632.28" height="24.81"/>
<rect class="lbg" y="657.09" height="1.11"/>
<rect class="sg" y="658.20" height="2.85"/>
<rect class="cr" y="661.05" height="5.93"/>
<rect class="pe" y="666.98" height="1.80"/>
<rect class="kh" y="668.78" height="1.79"/>
<rect class="br" y="670.57" height="0.71"/>
<rect class="lt" y="671.28" height="1.07"/>
<rect class="ol" y="672.35" height="29.97"/>
<rect class="bl" y="702.32" height="2.33"/>
<rect class="or" y="704.66" height="19.64"/>
<rect class="or" y="724.30" height="0.50"/>
</g>
<g transform="translate(1929.54,0)">
<rect class="ol" y="343.51" height="5.03"/>
<rect class="bl" y="348.54" height="2.34"/>
<rect class="lo" y="350.88" height="1.62"/>
<rect class="yg" y="352.50" height="35.60"/>
<rect class="lbg" y="388.10" height="1.80"/>
<rect class="sg" y="389.90" height="8.63"/>
<rect class="cr" y="398.53" height="22.47"/>
<rect class="pe" y="421.00" height="12.94"/>
<rect class="kh" y="433.94" height="14.92"/>
<rect class="br" y="448.87" height="2.16"/>
<rect class="ol" y="451.02" height="17.62"/>
<rect class="bl" y="468.64" height="20.06"/>
<rect class="or" y="488.71" height="13.48"/>
<rect class="yg" y="502.19" height="17.72"/>
<rect class="lbg" y="519.91" height="0.60"/>
<rect class="sg" y="520.52" height="4.43"/>
<rect class="cr" y="524.95" height="17.44"/>
<rect class="lt" y="542.39" height="0.72"/>
<rect class="lt" y="543.11" height="0.72"/>
<rect class="br" y="543.83" height="12.23"/>
<rect class="ol" y="556.05" height="0.91"/>
<rect class="bl" y="556.96" height="2.11"/>
<rect class="or" y="559.07" height="2.49"/>
<rect class="yg" y="561.56" height="2.04"/>
<rect class="lb" y="563.60" height="2.70"/>
<rect class="sg" y="566.30" height="19.78"/>
<rect class="cr" y="586.08" height="4.14"/>
<rect class="br" y="590.21" height="0.68"/>
<rect class="lt" y="590.89" height="1.01"/>
<rect class="ol" y="591.90" height="1.27"/>
<rect class="bl" y="593.17" height="2.28"/>
<rect class="lo" y="595.45" height="0.42"/>
<rect class="yg" y="595.87" height="1.27"/>
<rect class="lbg" y="597.14" height="1.52"/>
<rect class="sg" y="598.66" height="7.19"/>
<rect class="cr" y="605.85" height="1.94"/>
<rect class="pe" y="607.80" height="1.29"/>
<rect class="wh" y="609.09" height="0.81"/>
<rect class="ol" y="609.90" height="1.38"/>
<rect class="lt" y="611.27" height="1.13"/>
<rect class="bl" y="612.41" height="1.54"/>
<rect class="or" y="613.94" height="17.08"/>
<rect class="yg" y="631.02" height="23.37"/>
<rect class="lbg" y="654.40" height="1.26"/>
<rect class="sg" y="655.66" height="3.24"/>
<rect class="cr" y="658.89" height="4.85"/>
<rect class="pe" y="663.75" height="2.34"/>
<rect class="kh" y="666.08" height="1.43"/>
<rect class="br" y="667.51" height="0.57"/>
<rect class="lt" y="668.08" height="0.86"/>
<rect class="ol" y="668.94" height="32.13"/>
<rect class="bl" y="701.06" height="2.33"/>
<rect class="or" y="703.40" height="20.90"/>
<rect class="lb" y="724.30" height="0.50"/>
</g>
<g transform="translate(1975.28,0)">
<rect class="ol" y="343.51" height="5.03"/>
<rect class="bl" y="348.54" height="3.60"/>
<rect class="lo" y="352.14" height="0.36"/>
<rect class="yg" y="352.50" height="39.73"/>
<rect class="lbg" y="392.23" height="1.80"/>
<rect class="sg" y="394.03" height="6.65"/>
<rect class="cr" y="400.68" height="22.11"/>
<rect class="pe" y="422.80" height="8.45"/>
<rect class="kh" y="431.25" height="14.92"/>
<rect class="br" y="446.17" height="1.26"/>
<rect class="ol" y="447.43" height="20.32"/>
<rect class="bl" y="467.75" height="19.52"/>
<rect class="or" y="487.27" height="12.23"/>
<rect class="yg" y="499.49" height="15.21"/>
<rect class="lbg" y="514.70" height="0.47"/>
<rect class="sg" y="515.17" height="3.48"/>
<rect class="cr" y="518.66" height="18.88"/>
<rect class="lt" y="537.53" height="0.72"/>
<rect class="lt" y="538.25" height="0.72"/>
<rect class="br" y="538.97" height="12.41"/>
<rect class="ol" y="551.38" height="1.08"/>
<rect class="bl" y="552.46" height="2.52"/>
<rect class="or" y="554.97" height="2.97"/>
<rect class="yg" y="557.94" height="2.43"/>
<rect class="lb" y="560.37" height="2.34"/>
<rect class="sg" y="562.70" height="18.34"/>
<rect class="cr" y="581.04" height="5.03"/>
<rect class="br" y="586.08" height="0.72"/>
<rect class="lt" y="586.80" height="1.08"/>
<rect class="ol" y="587.87" height="1.35"/>
<rect class="bl" y="589.22" height="2.43"/>
<rect class="lo" y="591.65" height="0.45"/>
<rect class="yg" y="592.10" height="1.35"/>
<rect class="lbg" y="593.45" height="1.62"/>
<rect class="sg" y="595.07" height="8.09"/>
<rect class="cr" y="603.16" height="1.38"/>
<rect class="pe" y="604.54" height="0.92"/>
<rect class="wh" y="605.46" height="0.58"/>
<rect class="ol" y="606.03" height="0.98"/>
<rect class="lt" y="607.01" height="0.81"/>
<rect class="bl" y="607.82" height="1.09"/>
<rect class="or" y="608.91" height="19.42"/>
<rect class="yg" y="628.33" height="22.47"/>
<rect class="lbg" y="650.80" height="1.26"/>
<rect class="sg" y="652.06" height="3.24"/>
<rect class="cr" y="655.30" height="5.75"/>
<rect class="pe" y="661.05" height="1.44"/>
<rect class="kh" y="662.49" height="1.25"/>
<rect class="br" y="663.74" height="0.50"/>
<rect class="lt" y="664.24" height="0.75"/>
<rect class="ol" y="664.98" height="33.74"/>
<rect class="bl" y="698.73" height="2.33"/>
<rect class="or" y="701.06" height="23.24"/>
<rect class="lb" y="724.30" height="0.50"/>
</g>
<g transform="translate(2021.02,0)">
<rect class="ol" y="347.29" height="5.39"/>
<rect class="bl" y="352.68" height="2.16"/>
<rect class="lo" y="354.84" height="2.34"/>
<rect class="yg" y="357.17" height="39.01"/>
<rect class="lb" y="396.19" height="2.70"/>
<rect class="sg" y="398.89" height="7.19"/>
<rect class="cr" y="406.08" height="23.91"/>
<rect class="pe" y="429.99" height="4.85"/>
<rect class="kh" y="434.84" height="16.18"/>
<rect class="br" y="451.02" height="0.90"/>
<rect class="ol" y="451.92" height="19.24"/>
<rect class="bl" y="471.16" height="18.80"/>
<rect class="or" y="489.96" height="12.23"/>
<rect class="yg" y="502.19" height="15.03"/>
<rect class="lbg" y="517.22" height="0.60"/>
<rect class="sg" y="517.82" height="4.43"/>
<rect class="cr" y="522.25" height="17.08"/>
<rect class="lt" y="539.33" height="0.45"/>
<rect class="lt" y="539.78" height="0.45"/>
<rect class="br" y="540.23" height="13.48"/>
<rect class="ol" y="553.71" height="0.91"/>
<rect class="bl" y="554.62" height="2.11"/>
<rect class="or" y="556.73" height="2.49"/>
<rect class="yg" y="559.23" height="2.04"/>
<rect class="lb" y="561.27" height="2.70"/>
<rect class="sg" y="563.96" height="17.98"/>
<rect class="cr" y="581.94" height="6.47"/>
<rect class="br" y="588.41" height="0.53"/>
<rect class="lt" y="588.95" height="0.80"/>
<rect class="ol" y="589.74" height="1.00"/>
<rect class="bl" y="590.74" height="1.80"/>
<rect class="lo" y="592.54" height="0.33"/>
<rect class="yg" y="592.87" height="1.00"/>
<rect class="lbg" y="593.87" height="1.20"/>
<rect class="sg" y="595.07" height="8.09"/>
<rect class="cr" y="603.16" height="1.38"/>
<rect class="pe" y="604.54" height="0.92"/>
<rect class="wh" y="605.46" height="0.58"/>
<rect class="ol" y="606.03" height="0.98"/>
<rect class="lt" y="607.01" height="0.81"/>
<rect class="bl" y="607.82" height="1.09"/>
<rect class="or" y="608.91" height="20.86"/>
<rect class="yg" y="629.77" height="24.99"/>
<rect class="lbg" y="654.76" height="1.06"/>
<rect class="sg" y="655.81" height="2.72"/>
<rect class="cr" y="658.53" height="6.29"/>
<rect class="pe" y="664.83" height="1.26"/>
<rect class="kh" y="666.08" height="1.43"/>
<rect class="br" y="667.51" height="0.57"/>
<rect class="lt" y="668.08" height="0.86"/>
<rect class="ol" y="668.94" height="32.13"/>
<rect class="bl" y="701.06" height="1.26"/>
<rect class="or" y="702.32" height="21.98"/>
<rect class="lb" y="724.30" height="0.50"/>
</g>
<g transform="translate(2066.76,0)">
<rect class="ol" y="323.73" height="5.03"/>
<rect class="bl" y="328.77" height="2.16"/>
<rect class="lo" y="330.92" height="1.44"/>
<rect class="yg" y="332.36" height="44.95"/>
<rect class="lb" y="377.31" height="3.96"/>
<rect class="sg" y="381.27" height="7.19"/>
<rect class="cr" y="388.46" height="25.35"/>
<rect class="pe" y="413.81" height="6.29"/>
<rect class="kh" y="420.10" height="14.74"/>
<rect class="br" y="434.84" height="1.26"/>
<rect class="ol" y="436.10" height="21.57"/>
<rect class="bl" y="457.68" height="19.42"/>
<rect class="or" y="477.09" height="14.04"/>
<rect class="yg" y="491.13" height="13.75"/>
<rect class="lbg" y="504.89" height="0.47"/>
<rect class="sg" y="505.35" height="3.41"/>
<rect class="cr" y="508.77" height="17.62"/>
<rect class="lt" y="526.39" height="0.63"/>
<rect class="lt" y="527.02" height="0.63"/>
<rect class="br" y="527.64" height="13.48"/>
<rect class="ol" y="541.13" height="0.93"/>
<rect class="bl" y="542.06" height="2.16"/>
<rect class="or" y="544.22" height="2.55"/>
<rect class="yg" y="546.77" height="2.09"/>
<rect class="lb" y="548.86" height="3.96"/>
<rect class="sg" y="552.82" height="19.24"/>
<rect class="cr" y="572.05" height="5.93"/>
<rect class="br" y="577.99" height="0.65"/>
<rect class="lt" y="578.63" height="0.97"/>
<rect class="ol" y="579.60" height="1.21"/>
<rect class="bl" y="580.82" height="2.18"/>
<rect class="lo" y="583.00" height="0.40"/>
<rect class="yg" y="583.41" height="1.21"/>
<rect class="lbg" y="584.62" height="1.46"/>
<rect class="sg" y="586.08" height="8.09"/>
<rect class="cr" y="594.17" height="1.17"/>
<rect class="pe" y="595.33" height="0.78"/>
<rect class="wh" y="596.11" height="0.49"/>
<rect class="ol" y="596.59" height="0.83"/>
<rect class="lt" y="597.42" height="0.68"/>
<rect class="bl" y="598.10" height="0.92"/>
<rect class="or" y="599.02" height="22.11"/>
<rect class="yg" y="621.14" height="25.17"/>
<rect class="lbg" y="646.31" height="1.01"/>
<rect class="sg" y="647.31" height="2.59"/>
<rect class="cr" y="649.90" height="7.19"/>
<rect class="pe" y="657.09" height="1.80"/>
<rect class="kh" y="658.89" height="0.89"/>
<rect class="br" y="659.78" height="0.36"/>
<rect class="lt" y="660.14" height="0.53"/>
<rect class="ol" y="660.67" height="35.54"/>
<rect class="bl" y="696.21" height="1.26"/>
<rect class="or" y="697.47" height="26.83"/>
<rect class="lb" y="724.30" height="0.50"/>
</g>
<g transform="translate(2112.50,0)">
<rect class="ol" y="321.04" height="5.03"/>
<rect class="bl" y="326.07" height="3.60"/>
<rect class="lo" y="329.67" height="1.26"/>
<rect class="yg" y="330.92" height="45.13"/>
<rect class="lb" y="376.05" height="2.70"/>
<rect class="sg" y="378.75" height="7.19"/>
<rect class="cr" y="385.94" height="24.09"/>
<rect class="pe" y="410.03" height="5.03"/>
<rect class="kh" y="415.07" height="14.92"/>
<rect class="br" y="429.99" height="1.26"/>
<rect class="ol" y="431.25" height="21.57"/>
<rect class="bl" y="452.82" height="17.08"/>
<rect class="or" y="469.90" height="14.94"/>
<rect class="yg" y="484.84" height="13.93"/>
<rect class="lbg" y="498.77" height="0.40"/>
<rect class="sg" y="499.17" height="2.94"/>
<rect class="cr" y="502.11" height="17.80"/>
<rect class="lt" y="519.91" height="0.54"/>
<rect class="lt" y="520.45" height="0.54"/>
<rect class="br" y="520.99" height="15.28"/>
<rect class="ol" y="536.27" height="1.19"/>
<rect class="bl" y="537.46" height="2.77"/>
<rect class="or" y="540.23" height="3.26"/>
<rect class="yg" y="543.49" height="2.67"/>
<rect class="lb" y="546.16" height="3.96"/>
<rect class="sg" y="550.12" height="19.78"/>
<rect class="cr" y="569.90" height="6.29"/>
<rect class="br" y="576.19" height="0.62"/>
<rect class="lt" y="576.81" height="0.93"/>
<rect class="ol" y="577.73" height="1.16"/>
<rect class="bl" y="578.89" height="2.09"/>
<rect class="lo" y="580.98" height="0.39"/>
<rect class="yg" y="581.37" height="1.16"/>
<rect class="lbg" y="582.53" height="1.39"/>
<rect class="sg" y="583.92" height="7.01"/>
<rect class="cr" y="590.93" height="1.64"/>
<rect class="pe" y="592.57" height="1.09"/>
<rect class="wh" y="593.66" height="0.68"/>
<rect class="ol" y="594.35" height="1.16"/>
<rect class="lt" y="595.51" height="0.96"/>
<rect class="bl" y="596.47" height="1.30"/>
<rect class="or" y="597.76" height="23.37"/>
<rect class="yg" y="621.14" height="25.17"/>
<rect class="lbg" y="646.31" height="1.36"/>
<rect class="sg" y="647.67" height="3.50"/>
<rect class="cr" y="651.16" height="7.73"/>
<rect class="pe" y="658.89" height="1.44"/>
<rect class="kh" y="660.33" height="1.70"/>
<rect class="br" y="662.03" height="0.68"/>
<rect class="lt" y="662.71" height="1.02"/>
<rect class="ol" y="663.73" height="33.74"/>
<rect class="bl" y="697.47" height="2.33"/>
<rect class="or" y="699.81" height="24.49"/>
<rect class="or" y="724.30" height="0.50"/>
<rect class="lb" y="724.80" height="0.60"/>
</g>
<g transform="translate(2158.24,0)">
<rect class="ol" y="335.96" height="5.03"/>
<rect class="bl" y="340.99" height="2.52"/>
<rect class="lo" y="343.51" height="2.70"/>
<rect class="yg" y="346.21" height="42.43"/>
<rect class="lb" y="388.64" height="3.96"/>
<rect class="sg" y="392.59" height="8.45"/>
<rect class="cr" y="401.04" height="22.65"/>
<rect class="pe" y="423.70" height="6.29"/>
<rect class="kh" y="429.99" height="14.74"/>
<rect class="br" y="444.73" height="1.26"/>
<rect class="ol" y="445.99" height="20.32"/>
<rect class="bl" y="466.31" height="17.18"/>
<rect class="or" y="483.49" height="13.84"/>
<rect class="yg" y="497.34" height="11.43"/>
<rect class="lbg" y="508.77" height="0.86"/>
<rect class="sg" y="509.63" height="1.29"/>
<rect class="cr" y="510.92" height="17.98"/>
<rect class="lt" y="528.90" height="0.54"/>
<rect class="lt" y="529.44" height="0.54"/>
<rect class="br" y="529.98" height="13.30"/>
<rect class="ol" y="543.29" height="0.97"/>
<rect class="bl" y="544.26" height="2.27"/>
<rect class="or" y="546.52" height="2.67"/>
<rect class="yg" y="549.19" height="2.18"/>
<rect class="lb" y="551.38" height="2.70"/>
<rect class="sg" y="554.07" height="19.42"/>
<rect class="cr" y="573.49" height="5.39"/>
<rect class="br" y="578.89" height="0.69"/>
<rect class="lt" y="579.58" height="1.04"/>
<rect class="ol" y="580.61" height="1.29"/>
<rect class="bl" y="581.91" height="2.33"/>
<rect class="lo" y="584.24" height="0.43"/>
<rect class="yg" y="584.67" height="1.29"/>
<rect class="lbg" y="585.96" height="1.55"/>
<rect class="sg" y="587.52" height="8.45"/>
<rect class="cr" y="595.97" height="1.29"/>
<rect class="pe" y="597.26" height="0.86"/>
<rect class="wh" y="598.12" height="0.54"/>
<rect class="ol" y="598.66" height="0.92"/>
<rect class="lt" y="599.58" height="0.76"/>
<rect class="bl" y="600.33" height="1.02"/>
<rect class="or" y="601.36" height="23.37"/>
<rect class="yg" y="624.73" height="25.17"/>
<rect class="lbg" y="649.90" height="1.11"/>
<rect class="sg" y="651.01" height="2.85"/>
<rect class="cr" y="653.86" height="5.93"/>
<rect class="pe" y="659.79" height="2.34"/>
<rect class="kh" y="662.13" height="1.43"/>
<rect class="br" y="663.56" height="0.57"/>
<rect class="lt" y="664.13" height="0.86"/>
<rect class="ol" y="664.98" height="34.82"/>
<rect class="bl" y="699.81" height="1.26"/>
<rect class="or" y="701.06" height="23.24"/>
<rect class="or" y="724.30" height="0.50"/>
</g>
<g transform="translate(2203.98,0)">
<rect class="ol" y="319.78" height="5.03"/>
<rect class="bl" y="324.81" height="2.52"/>
<rect class="lo" y="327.33" height="1.08"/>
<rect class="yg" y="328.41" height="47.64"/>
<rect class="lb" y="376.05" height="3.96"/>
<rect class="sg" y="380.01" height="7.19"/>
<rect class="cr" y="387.20" height="25.17"/>
<rect class="pe" y="412.37" height="7.73"/>
<rect class="kh" y="420.10" height="16.00"/>
<rect class="br" y="436.10" height="2.34"/>
<rect class="ol" y="438.44" height="20.32"/>
<rect class="bl" y="458.76" height="17.08"/>
<rect class="or" y="475.84" height="15.30"/>
<rect class="yg" y="491.13" height="9.98"/>
<rect class="lbg" y="501.11" height="0.44"/>
<rect class="sg" y="501.56" height="3.26"/>
<rect class="cr" y="504.81" height="17.44"/>
<rect class="lt" y="522.25" height="0.27"/>
<rect class="lt" y="522.52" height="0.27"/>
<rect class="br" y="522.79" height="14.38"/>
<rect class="ol" y="537.17" height="0.95"/>
<rect class="bl" y="538.12" height="2.22"/>
<rect class="or" y="540.34" height="2.61"/>
<rect class="yg" y="542.95" height="2.14"/>
<rect class="lb" y="545.08" height="3.78"/>
<rect class="sg" y="548.86" height="19.24"/>
<rect class="cr" y="568.10" height="5.39"/>
<rect class="br" y="573.49" height="0.60"/>
<rect class="lt" y="574.10" height="0.91"/>
<rect class="ol" y="575.00" height="1.13"/>
<rect class="bl" y="576.13" height="2.04"/>
<rect class="lo" y="578.17" height="0.38"/>
<rect class="yg" y="578.55" height="1.13"/>
<rect class="lbg" y="579.68" height="1.36"/>
<rect class="sg" y="581.04" height="8.99"/>
<rect class="cr" y="590.03" height="1.29"/>
<rect class="pe" y="591.33" height="0.86"/>
<rect class="wh" y="592.19" height="0.54"/>
<rect class="ol" y="592.73" height="0.92"/>
<rect class="lt" y="593.65" height="0.76"/>
<rect class="bl" y="594.40" height="1.02"/>
<rect class="or" y="595.43" height="26.61"/>
<rect class="yg" y="622.04" height="25.17"/>
<rect class="lbg" y="647.21" height="1.11"/>
<rect class="sg" y="648.31" height="2.85"/>
<rect class="cr" y="651.16" height="7.73"/>
<rect class="pe" y="658.89" height="2.16"/>
<rect class="kh" y="661.05" height="1.29"/>
<rect class="br" y="662.34" height="0.52"/>
<rect class="lt" y="662.86" height="0.78"/>
<rect class="ol" y="663.64" height="35.09"/>
<rect class="bl" y="698.73" height="2.33"/>
<rect class="or" y="701.06" height="23.24"/>
<rect class="or" y="724.30" height="0.50"/>
</g>
<g transform="translate(2249.72,0)">
<rect class="ol" y="339.91" height="3.60"/>
<rect class="bl" y="343.51" height="1.44"/>
<rect class="lo" y="344.95" height="2.34"/>
<rect class="yg" y="347.29" height="44.95"/>
<rect class="lb" y="392.23" height="3.96"/>
<rect class="sg" y="396.19" height="7.19"/>
<rect class="cr" y="403.38" height="21.57"/>
<rect class="pe" y="424.96" height="11.15"/>
<rect class="kh" y="436.10" height="15.28"/>
<rect class="br" y="451.38" height="0.90"/>
<rect class="ol" y="452.28" height="21.22"/>
<rect class="bl" y="473.50" height="15.21"/>
<rect class="or" y="488.71" height="14.74"/>
<rect class="yg" y="503.45" height="11.61"/>
<rect class="lbg" y="515.06" height="0.86"/>
<rect class="sg" y="515.92" height="1.29"/>
<rect class="cr" y="517.22" height="19.42"/>
<rect class="lt" y="536.63" height="0.45"/>
<rect class="lt" y="537.08" height="0.45"/>
<rect class="br" y="537.53" height="12.59"/>
<rect class="ol" y="550.12" height="0.91"/>
<rect class="bl" y="551.02" height="2.11"/>
<rect class="or" y="553.14" height="2.49"/>
<rect class="yg" y="555.63" height="2.04"/>
<rect class="lb" y="557.67" height="3.60"/>
<rect class="sg" y="561.27" height="15.82"/>
<rect class="cr" y="577.09" height="5.39"/>
<rect class="br" y="582.48" height="0.69"/>
<rect class="lt" y="583.17" height="1.04"/>
<rect class="ol" y="584.21" height="1.29"/>
<rect class="bl" y="585.50" height="2.33"/>
<rect class="lo" y="587.83" height="0.43"/>
<rect class="yg" y="588.26" height="1.29"/>
<rect class="lbg" y="589.56" height="1.55"/>
<rect class="sg" y="591.11" height="7.55"/>
<rect class="cr" y="598.66" height="1.38"/>
<rect class="pe" y="600.04" height="0.92"/>
<rect class="wh" y="600.96" height="0.58"/>
<rect class="ol" y="601.54" height="0.98"/>
<rect class="lt" y="602.52" height="0.81"/>
<rect class="bl" y="603.32" height="1.09"/>
<rect class="or" y="604.42" height="26.61"/>
<rect class="yg" y="631.02" height="24.81"/>
<rect class="lbg" y="655.84" height="0.86"/>
<rect class="sg" y="656.69" height="2.20"/>
<rect class="cr" y="658.89" height="5.93"/>
<rect class="pe" y="664.83" height="2.52"/>
<rect class="kh" y="667.34" height="1.34"/>
<rect class="br" y="668.68" height="0.53"/>
<rect class="lt" y="669.21" height="0.80"/>
<rect class="ol" y="670.02" height="31.05"/>
<rect class="bl" y="701.06" height="2.69"/>
<rect class="or" y="703.76" height="20.54"/>
<rect class="or" y="724.30" height="0.50"/>
<rect class="lb" y="724.80" height="1.00"/>
</g>
<g transform="translate(2295.46,0)">
<rect class="ol" y="330.92" height="5.03"/>
<rect class="bl" y="335.96" height="1.26"/>
<rect class="lo" y="337.22" height="2.34"/>
<rect class="yg" y="339.55" height="44.05"/>
<rect class="lb" y="383.60" height="3.96"/>
<rect class="sg" y="387.56" height="7.19"/>
<rect class="cr" y="394.75" height="23.91"/>
<rect class="pe" y="418.66" height="11.33"/>
<rect class="kh" y="429.99" height="16.00"/>
<rect class="br" y="445.99" height="1.08"/>
<rect class="ol" y="447.07" height="24.09"/>
<rect class="bl" y="471.16" height="16.11"/>
<rect class="or" y="487.27" height="13.75"/>
<rect class="yg" y="501.02" height="12.60"/>
<rect class="lbg" y="513.62" height="0.43"/>
<rect class="sg" y="514.05" height="3.16"/>
<rect class="cr" y="517.22" height="18.88"/>
<rect class="lt" y="536.09" height="0.09"/>
<rect class="lt" y="536.18" height="0.09"/>
<rect class="br" y="536.27" height="13.48"/>
<rect class="ol" y="549.76" height="0.95"/>
<rect class="bl" y="550.71" height="2.22"/>
<rect class="or" y="552.92" height="2.61"/>
<rect class="yg" y="555.53" height="2.14"/>
<rect class="lb" y="557.67" height="3.60"/>
<rect class="sg" y="561.27" height="18.52"/>
<rect class="cr" y="579.78" height="4.49"/>
<rect class="br" y="584.28" height="0.55"/>
<rect class="lt" y="584.83" height="0.82"/>
<rect class="ol" y="585.65" height="1.02"/>
<rect class="bl" y="586.67" height="1.84"/>
<rect class="lo" y="588.51" height="0.34"/>
<rect class="yg" y="588.86" height="1.02"/>
<rect class="lbg" y="589.88" height="1.23"/>
<rect class="sg" y="591.11" height="6.11"/>
<rect class="cr" y="597.22" height="1.64"/>
<rect class="pe" y="598.86" height="1.09"/>
<rect class="wh" y="599.96" height="0.68"/>
<rect class="ol" y="600.64" height="1.16"/>
<rect class="lt" y="601.80" height="0.96"/>
<rect class="bl" y="602.76" height="1.30"/>
<rect class="or" y="604.06" height="25.71"/>
<rect class="yg" y="629.77" height="28.77"/>
<rect class="lbg" y="658.53" height="0.76"/>
<rect class="sg" y="659.29" height="1.94"/>
<rect class="cr" y="661.23" height="6.11"/>
<rect class="pe" y="667.34" height="2.70"/>
<rect class="kh" y="670.04" height="1.25"/>
<rect class="br" y="671.29" height="0.50"/>
<rect class="lt" y="671.78" height="0.75"/>
<rect class="ol" y="672.53" height="29.79"/>
<rect class="bl" y="702.32" height="2.33"/>
<rect class="or" y="704.66" height="19.64"/>
<rect class="or" y="724.30" height="0.50"/>
</g>
<g transform="translate(2341.20,0)">
<rect class="ol" y="344.95" height="5.03"/>
<rect class="bl" y="349.98" height="2.16"/>
<rect class="lo" y="352.14" height="1.44"/>
<rect class="yg" y="353.58" height="43.51"/>
<rect class="lb" y="397.09" height="3.96"/>
<rect class="sg" y="401.04" height="6.29"/>
<rect class="cr" y="407.34" height="23.91"/>
<rect class="pe" y="431.25" height="12.23"/>
<rect class="kh" y="443.47" height="15.28"/>
<rect class="br" y="458.76" height="0.90"/>
<rect class="ol" y="459.65" height="20.14"/>
<rect class="bl" y="479.79" height="16.11"/>
<rect class="or" y="495.90" height="13.77"/>
<rect class="yg" y="509.67" height="12.59"/>
<rect class="lbg" y="522.25" height="0.47"/>
<rect class="sg" y="522.73" height="3.48"/>
<rect class="cr" y="526.21" height="18.52"/>
<rect class="lt" y="544.72" height="0.72"/>
<rect class="lt" y="545.44" height="0.72"/>
<rect class="br" y="546.16" height="13.48"/>
<rect class="ol" y="559.65" height="0.80"/>
<rect class="bl" y="560.45" height="1.86"/>
<rect class="or" y="562.31" height="2.20"/>
<rect class="yg" y="564.50" height="1.80"/>
<rect class="lb" y="566.30" height="3.60"/>
<rect class="sg" y="569.90" height="17.08"/>
<rect class="cr" y="586.98" height="4.49"/>
<rect class="br" y="591.47" height="0.58"/>
<rect class="lt" y="592.05" height="0.86"/>
<rect class="ol" y="592.91" height="1.08"/>
<rect class="bl" y="593.99" height="1.94"/>
<rect class="lo" y="595.93" height="0.36"/>
<rect class="yg" y="596.29" height="1.08"/>
<rect class="lbg" y="597.37" height="1.29"/>
<rect class="sg" y="598.66" height="6.65"/>
<rect class="cr" y="605.31" height="1.21"/>
<rect class="pe" y="606.52" height="0.81"/>
<rect class="wh" y="607.33" height="0.50"/>
<rect class="ol" y="607.83" height="0.86"/>
<rect class="lt" y="608.69" height="0.70"/>
<rect class="bl" y="609.39" height="0.96"/>
<rect class="or" y="610.35" height="23.01"/>
<rect class="yg" y="633.36" height="26.07"/>
<rect class="lbg" y="659.43" height="0.86"/>
<rect class="sg" y="660.29" height="2.20"/>
<rect class="cr" y="662.49" height="5.93"/>
<rect class="pe" y="668.42" height="1.80"/>
<rect class="kh" y="670.22" height="1.16"/>
<rect class="br" y="671.38" height="0.46"/>
<rect class="lt" y="671.84" height="0.69"/>
<rect class="ol" y="672.53" height="29.79"/>
<rect class="bl" y="702.32" height="1.44"/>
<rect class="or" y="703.76" height="20.54"/>
<rect class="or" y="724.30" height="0.50"/>
</g>
<g transform="translate(2386.94,0)">
<rect class="ol" y="374.97" height="3.78"/>
<rect class="bl" y="378.75" height="2.16"/>
<rect class="lo" y="380.91" height="1.26"/>
<rect class="yg" y="382.16" height="38.83"/>
<rect class="lb" y="421.00" height="3.96"/>
<rect class="sg" y="424.96" height="5.93"/>
<rect class="cr" y="430.89" height="21.57"/>
<rect class="pe" y="452.46" height="8.45"/>
<rect class="kh" y="460.91" height="14.92"/>
<rect class="br" y="475.84" height="0.90"/>
<rect class="ol" y="476.73" height="18.08"/>
<rect class="bl" y="494.82" height="14.85"/>
<rect class="or" y="509.67" height="14.92"/>
<rect class="yg" y="524.59" height="12.59"/>
<rect class="lbg" y="537.17" height="0.37"/>
<rect class="sg" y="537.54" height="2.69"/>
<rect class="cr" y="540.23" height="17.98"/>
<rect class="lt" y="558.21" height="0.45"/>
<rect class="lt" y="558.66" height="0.45"/>
<rect class="br" y="559.11" height="11.69"/>
<rect class="ol" y="570.79" height="0.86"/>
<rect class="bl" y="571.66" height="2.01"/>
<rect class="or" y="573.67" height="2.37"/>
<rect class="yg" y="576.04" height="1.94"/>
<rect class="lb" y="577.99" height="3.06"/>
<rect class="sg" y="581.04" height="14.92"/>
<rect class="cr" y="595.97" height="4.14"/>
<rect class="br" y="600.10" height="0.46"/>
<rect class="lt" y="600.56" height="0.69"/>
<rect class="ol" y="601.25" height="0.86"/>
<rect class="bl" y="602.11" height="1.55"/>
<rect class="lo" y="603.67" height="0.29"/>
<rect class="yg" y="603.96" height="0.86"/>
<rect class="lbg" y="604.82" height="1.04"/>
<rect class="sg" y="605.85" height="7.55"/>
<rect class="cr" y="613.41" height="1.42"/>
<rect class="pe" y="614.83" height="0.95"/>
<rect class="wh" y="615.78" height="0.59"/>
<rect class="ol" y="616.37" height="1.01"/>
<rect class="lt" y="617.38" height="0.83"/>
<rect class="bl" y="618.21" height="1.13"/>
<rect class="or" y="619.34" height="20.32"/>
<rect class="yg" y="639.65" height="23.73"/>
<rect class="lbg" y="663.39" height="1.11"/>
<rect class="sg" y="664.49" height="2.85"/>
<rect class="cr" y="667.34" height="5.03"/>
<rect class="pe" y="672.38" height="2.34"/>
<rect class="kh" y="674.71" height="1.42"/>
<rect class="br" y="676.14" height="0.57"/>
<rect class="lt" y="676.71" height="0.85"/>
<rect class="ol" y="677.56" height="27.09"/>
<rect class="bl" y="704.66" height="1.26"/>
<rect class="or" y="705.91" height="18.39"/>
<rect class="or" y="724.30" height="0.50"/>
</g>
</g>
<g id="xl" font-size="15" fill="#555" text-anchor="end">
<text transform="translate(761.5,740.3) rotate(-60.0)" textLength="55.4">2021-02</text>
<text transform="translate(807.2,740.3) rotate(-60.0)" textLength="55.4">2021-03</text>
<text transform="translate(853.0,740.3) rotate(-60.0)" textLength="55.4">2021-04</text>
<text transform="translate(898.7,740.3) rotate(-60.0)" textLength="55.4">2021-05</text>
<text transform="translate(944.5,740.3) rotate(-60.0)" textLength="55.4">2021-06</text>
<text transform="translate(990.2,740.3) rotate(-60.0)" textLength="55.4">2021-07</text>
<text transform="translate(1035.9,740.3) rotate(-60.0)" textLength="55.4">2021-08</text>
<text transform="translate(1081.7,740.3) rotate(-60.0)" textLength="55.4">2021-09</text>
<text transform="translate(1127.4,740.3) rotate(-60.0)" textLength="55.4">2021-10</text>
<text transform="translate(1173.2,740.3) rotate(-60.0)" textLength="55.4">2021-11</text>
<text transform="translate(1218.9,740.3) rotate(-60.0)" textLength="55.4">2021-12</text>
<text transform="translate(1264.6,740.3) rotate(-60.0)" textLength="55.4">2022-01</text>
<text transform="translate(1310.4,740.3) rotate(-60.0)" textLength="55.4">2022-02</text>
<text transform="translate(1356.1,740.3) rotate(-60.0)" textLength="55.4">2022-03</text>
<text transform="translate(1401.9,740.3) rotate(-60.0)" textLength="55.4">2022-04</text>
<text transform="translate(1447.6,740.3) rotate(-60.0)" textLength="55.4">2022-05</text>
<text transform="translate(1493.3,740.3) rotate(-60.0)" textLength="55.4">2022-06</text>
<text transform="translate(1539.1,740.3) rotate(-60.0)" textLength="55.4">2022-07</text>
<text transform="translate(1584.8,740.3) rotate(-60.0)" textLength="55.4">2022-08</text>
<text transform="translate(1630.6,740.3) rotate(-60.0)" textLength="55.4">2022-09</text>
<text transform="translate(1676.3,740.3) rotate(-60.0)" textLength="55.4">2022-10</text>
<text transform="translate(1722.0,740.3) rotate(-60.0)" textLength="55.4">2022-11</text>
<text transform="translate(1767.8,740.3) rotate(-60.0)" textLength="55.4">2022-12</text>
<text transform="translate(1813.5,740.3) rotate(-60.0)" textLength="55.4">2023-01</text>
<text transform="translate(1859.3,740.3) rotate(-60.0)" textLength="55.4">2023-02</text>
<text transform="translate(1905.0,740.3) rotate(-60.0)" textLength="55.4">2023-03</text>
<text transform="translate(1950.7,740.3) rotate(-60.0)" textLength="55.4">2023-04</text>
<text transform="translate(1996.5,740.3) rotate(-60.0)" textLength="55.4">2023-05</text>
<text transform="translate(2042.2,740.3) rotate(-60.0)" textLength="55.4">2023-06</text>
<text transform="translate(2088.0,740.3) rotate(-60.0)" textLength="55.4">2023-07</text>
<text transform="translate(2133.7,740.3) rotate(-60.0)" textLength="55.4">2023-08</text>
<text transform="translate(2179.4,740.3) rotate(-60.0)" textLength="55.4">2023-09</text>
<text transform="translate(2225.2,740.3) rotate(-60.0)" textLength="55.4">2023-10</text>
<text transform="translate(2270.9,740.3) rotate(-60.0)" textLength="55.4">2023-11</text>
<text transform="translate(2316.7,740.3) rotate(-60.0)" textLength="55.4">2023-12</text>
<text transform="translate(2362.4,740.3) rotate(-60.0)" textLength="55.4">2024-01</text>
<text transform="translate(2408.1,740.3) rotate(-60.0)" textLength="55.4">2024-02</text>
</g>
<text id="xtitle" x="1581.5" y="813.9" text-anchor="middle" font-size="15" fill="#8a8a8a" textLength="135.5">Date of Occurrence</text>
<g id="legend">
<rect class="lb" x="748.4" y="831.6" opacity=".83"/>
<text x="768.9" y="841.9" textLength="44.0">ARSON</text>
<rect class="yg" x="1026.6" y="831.6" opacity=".83"/>
<text x="1047.1" y="838.7" textLength="223.3">ASSAULT WITH DEADLY WEAPON ON</text>
<text x="1047.1" y="856.7" textLength="102.5">POLICE OFFICER</text>
<rect class="or" x="1304.8" y="831.6" opacity=".83"/>
<text x="1325.3" y="838.7" textLength="204.4">ASSAULT WITH DEADLY WEAPON,</text>
<text x="1325.3" y="856.7" textLength="140.6">AGGRAVATED ASSAULT</text>
<rect class="bl" x="1583.0" y="831.6" opacity=".83"/>
<text x="1603.5" y="841.9" textLength="137.7">ATTEMPTED ROBBERY</text>
<rect class="ol" x="1861.2" y="831.6" opacity=".83"/>
<text x="1881.7" y="841.9" textLength="170.5">BATTERY - SIMPLE ASSAULT</text>
<rect class="br" x="2139.4" y="831.6" opacity=".83"/>
<text x="2159.9" y="841.9" textLength="163.0">BATTERY POLICE (SIMPLE)</text>
<rect class="kh" x="748.4" y="855.4" opacity=".83"/>
<text x="768.9" y="865.6" textLength="205.5">BATTERY WITH SEXUAL CONTACT</text>
<rect class="pe" x="1583.0" y="855.4" opacity=".83"/>
<text x="1603.5" y="865.6" textLength="89.9">BIKE - STOLEN</text>
<rect class="cr" x="1861.2" y="855.4" opacity=".83"/>
<text x="1881.7" y="865.6" textLength="124.7">BRANDISH WEAPON</text>
<rect class="sg" x="2139.4" y="855.4" opacity=".83"/>
<text x="2159.9" y="865.6" textLength="141.5">BUNCO, GRAND THEFT</text>
<rect class="lb" x="748.4" y="879.1" opacity=".83"/>
<text x="768.9" y="889.4" textLength="136.1">BUNCO, PETTY THEFT</text>
<rect class="yg" x="1026.6" y="879.1" opacity=".83"/>
<text x="1047.1" y="889.4" textLength="67.2">BURGLARY</text>
<rect class="or" x="1304.8" y="879.1" opacity=".83"/>
<text x="1325.3" y="889.4" textLength="162.7">BURGLARY FROM VEHICLE</text>
<rect class="bl" x="1583.0" y="879.1" opacity=".83"/>
<text x="1603.5" y="889.4" textLength="147.8">BURGLARY, ATTEMPTED</text>
<rect class="ol" x="1861.2" y="879.1" opacity=".83"/>
<text x="1881.7" y="886.9" textLength="213.8">CHILD ABUSE (PHYSICAL) - SIMPLE</text>
<text x="1881.7" y="904.9" textLength="54.9">ASSAULT</text>
<rect class="br" x="2139.4" y="879.1" opacity=".83"/>
<text x="2159.9" y="889.4" textLength="218.8">CHILD ANNOYING (17YRS &amp; UNDER)</text>
<rect class="kh" x="748.4" y="902.8" opacity=".83"/>
<text x="768.9" y="913.1" textLength="198.7">CHILD NEGLECT (SEE 300 W.I.C.)</text>
<rect class="pe" x="1026.6" y="902.8" opacity=".83"/>
<text x="1047.1" y="913.1" textLength="137.8">CONTEMPT OF COURT</text>
<rect class="cr" x="1304.8" y="902.8" opacity=".83"/>
<text x="1325.3" y="913.1" textLength="127.7">CRIMINAL HOMICIDE</text>
<rect class="sg" x="1583.0" y="902.8" opacity=".83"/>
<text x="1603.5" y="910.6" textLength="209.6">CRIMINAL THREATS - NO WEAPON</text>
<text x="1603.5" y="928.6" textLength="69.0">DISPLAYED</text>
<rect class="lb" x="2139.4" y="902.8" opacity=".83"/>
<text x="2159.9" y="910.6" textLength="207.3">CRM AGNST CHLD (13 OR UNDER)</text>
<text x="2159.9" y="928.6" textLength="182.3">(14-15 &amp; SUSP 10 YRS OLDER)</text>
<rect class="yg" x="748.4" y="926.6" opacity=".83"/>
<text x="768.9" y="936.8" textLength="226.9">DISCHARGE FIREARMS/SHOTS FIRED</text>
<rect class="or" x="1026.6" y="926.6" opacity=".83"/>
<text x="1047.1" y="936.8" textLength="150.9">DISTURBING THE PEACE</text>
<rect class="bl" x="1304.8" y="926.6" opacity=".83"/>
<text x="1325.3" y="934.3" textLength="196.1">DOCUMENT FORGERY / STOLEN</text>
<text x="1325.3" y="952.3" textLength="48.8">FELONY</text>
<rect class="ol" x="1861.2" y="926.6" opacity=".83"/>
<text x="1881.7" y="934.3" textLength="196.6">EMBEZZLEMENT, GRAND THEFT</text>
<text x="1881.7" y="952.3" textLength="106.2">($950.01 &amp; OVER)</text>
<rect class="br" x="748.4" y="950.3" opacity=".83"/>
<text x="768.9" y="960.5" textLength="72.6">EXTORTION</text>
<rect class="kh" x="1026.6" y="950.3" opacity=".83"/>
<text x="1047.1" y="960.5" textLength="110.6">FAILURE TO YIELD</text>
<rect class="pe" x="1583.0" y="950.3" opacity=".83"/>
<text x="1603.5" y="960.5" textLength="135.7">INDECENT EXPOSURE</text>
<rect class="cr" x="2139.4" y="950.3" opacity=".83"/>
<text x="2159.9" y="958.0" textLength="214.1">INTIMATE PARTNER - AGGRAVATED</text>
<text x="2159.9" y="976.0" textLength="54.9">ASSAULT</text>
<rect class="sg" x="748.4" y="974.0" opacity=".83"/>
<text x="768.9" y="984.3" textLength="235.6">INTIMATE PARTNER - SIMPLE ASSAULT</text>
<rect class="lb" x="1026.6" y="974.0" opacity=".83"/>
<text x="1047.1" y="981.8" textLength="230.9">LETTERS, LEWD - TELEPHONE CALLS,</text>
<text x="1047.1" y="999.8" textLength="36.1">LEWD</text>
<rect class="yg" x="1304.8" y="974.0" opacity=".83"/>
<text x="1325.3" y="984.3" textLength="101.6">OTHER ASSAULT</text>
<rect class="or" x="1583.0" y="974.0" opacity=".83"/>
<text x="1603.5" y="984.3" textLength="196.1">OTHER MISCELLANEOUS CRIME</text>
<rect class="bl" x="1861.2" y="974.0" opacity=".83"/>
<text x="1881.7" y="984.3" textLength="81.0">PICKPOCKET</text>
<rect class="ol" x="748.4" y="997.8" opacity=".83"/>
<text x="768.9" y="1008.0" textLength="101.7">RAPE, FORCIBLE</text>
<rect class="br" x="1304.8" y="997.8" opacity=".83"/>
<text x="1325.3" y="1008.0" textLength="59.5">ROBBERY</text>
<rect class="kh" x="1583.0" y="997.8" opacity=".83"/>
<text x="1603.5" y="1005.5" textLength="180.7">SEX,UNLAWFUL(INC MUTUAL</text>
<text x="1603.5" y="1023.5" textLength="241.4">CONSENT, PENETRATION W/ FRGN OBJ</text>
<rect class="pe" x="1861.2" y="997.8" opacity=".83"/>
<text x="1881.7" y="1005.5" textLength="216.2">SEXUAL PENETRATION W/FOREIGN</text>
<text x="1881.7" y="1023.5" textLength="49.8">OBJECT</text>
<rect class="cr" x="2139.4" y="997.8" opacity=".83"/>
<text x="2159.9" y="1005.5" textLength="228.7">SHOPLIFTING - PETTY THEFT ($950 &amp;</text>
<text x="2159.9" y="1023.5" textLength="49.4">UNDER)</text>
<rect class="sg" x="748.4" y="1021.5" opacity=".83"/>
<text x="768.9" y="1029.2" textLength="234.5">SHOPLIFTING-GRAND THEFT ($950.01</text>
<text x="768.9" y="1047.2" textLength="50.4">&amp; OVER)</text>
<rect class="lb" x="1026.6" y="1021.5" opacity=".83"/>
<text x="1047.1" y="1031.7" textLength="242.1">SHOTS FIRED AT INHABITED DWELLING</text>
<rect class="yg" x="1304.8" y="1021.5" opacity=".83"/>
<text x="1325.3" y="1029.2" textLength="241.3">THEFT FROM MOTOR VEHICLE - GRAND</text>
<text x="1325.3" y="1047.2" textLength="124.1">($950.01 AND OVER)</text>
<rect class="or" x="1026.6" y="1045.2" opacity=".83"/>
<text x="1047.1" y="1053.0" textLength="235.9">THEFT FROM MOTOR VEHICLE - PETTY</text>
<text x="1047.1" y="1071.0" textLength="98.7">($950 &amp; UNDER)</text>
<rect class="bl" x="1583.0" y="1045.2" opacity=".83"/>
<text x="1603.5" y="1055.5" textLength="121.8">THEFT OF IDENTITY</text>
<rect class="ol" x="1861.2" y="1045.2" opacity=".83"/>
<text x="1881.7" y="1055.5" textLength="233.1">THEFT PLAIN - PETTY ($950 &amp; UNDER)</text>
<rect class="br" x="2139.4" y="1045.2" opacity=".83"/>
<text x="2159.9" y="1055.5" textLength="98.3">THEFT, PERSON</text>
<rect class="kh" x="748.4" y="1069.0" opacity=".83"/>
<text x="768.9" y="1076.7" textLength="157.1">THEFT-GRAND ($950.01 &amp;</text>
<text x="768.9" y="1094.7" textLength="242.1">OVER)EXCPT,GUNS,FOWL,LIVESTK,PRO</text>
<text x="768.9" y="1112.7" textLength="9.2">D</text>
<rect class="pe" x="1304.8" y="1069.0" opacity=".83"/>
<text x="1325.3" y="1079.2" textLength="86.7">TRESPASSING</text>
<rect class="cr" x="1583.0" y="1069.0" opacity=".83"/>
<text x="1603.5" y="1076.7" textLength="221.8">VANDALISM - FELONY ($400 &amp; OVER,</text>
<text x="1603.5" y="1094.7" textLength="168.3">ALL CHURCH VANDALISMS)</text>
<rect class="sg" x="1861.2" y="1069.0" opacity=".83"/>
<text x="1881.7" y="1076.7" textLength="223.2">VANDALISM - MISDEAMEANOR ($399</text>
<text x="1881.7" y="1094.7" textLength="70.8">OR UNDER)</text>
<rect class="lb" x="2139.4" y="1069.0" opacity=".83"/>
<text x="2159.9" y="1079.2" textLength="174.8">VEHICLE - ATTEMPT STOLEN</text>
<rect class="yg" x="1026.6" y="1092.7" opacity=".83"/>
<text x="1047.1" y="1102.9" textLength="113.6">VEHICLE - STOLEN</text>
<rect class="or" x="1304.8" y="1092.7" opacity=".83"/>
<text x="1325.3" y="1100.4" textLength="164.0">VEHICLE, STOLEN - OTHER</text>
<text x="1325.3" y="1118.4" textLength="230.0">(MOTORIZED SCOOTERS, BIKES, ETC)</text>
<rect class="bl" x="2139.4" y="1092.7" opacity=".83"/>
<text x="2159.9" y="1102.9" textLength="181.9">VIOLATION OF COURT ORDER</text>
<rect class="ol" x="748.4" y="1116.4" opacity=".83"/>
<text x="768.9" y="1126.7" textLength="223.0">VIOLATION OF RESTRAINING ORDER</text>
</g>
</svg>
</body>
</html>
